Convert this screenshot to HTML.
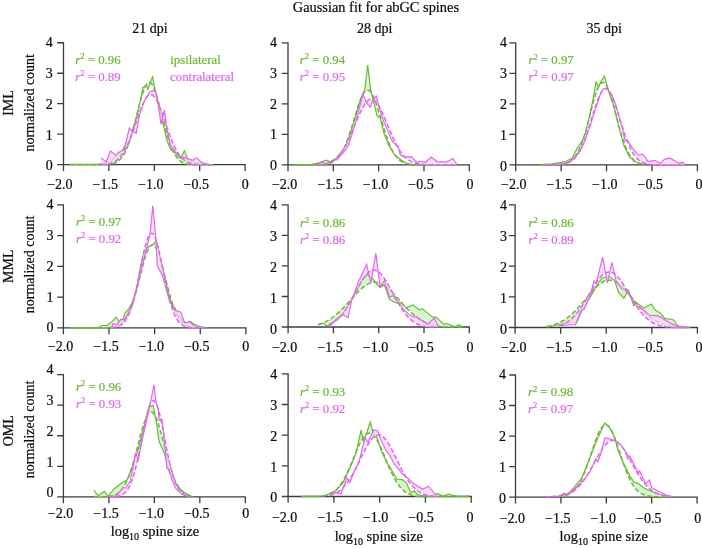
<!DOCTYPE html>
<html lang="en">
<head>
<meta charset="utf-8">
<title>Gaussian fit for abGC spines</title>
<style>html,body{margin:0;padding:0;background:#fff}body{width:702px;height:549px;overflow:hidden}svg{display:block}</style>
</head>
<body>
<svg width="702" height="549" viewBox="0 0 702 549">
<rect width="702" height="549" fill="#fff"/>
<g font-family='"Liberation Serif", "DejaVu Serif", serif' font-size="14" fill="#0a0a0a" stroke="#0a0a0a" stroke-width="0.2">
<text x="375.9" y="11.6" text-anchor="middle" font-size="14.4">Gaussian fit for abGC spines</text>
<text x="149.9" y="33.4" text-anchor="middle">21 dpi</text>
<text x="374.7" y="33.4" text-anchor="middle">28 dpi</text>
<text x="604.1" y="33.4" text-anchor="middle">35 dpi</text>
<g>
<path d="M57.20 42.75H63.50V171.00M57.20 73.24H63.50M57.20 103.72H63.50M57.20 134.21H63.50M57.20 164.70H245.10V171.00M108.90 164.70V171.00M154.30 164.70V171.00M199.70 164.70V171.00" fill="none" stroke="#3c3c3c" stroke-width="1.3"/>
<path d="M69.9 164.3 L86.2 164.3 L98.0 164.0 L104.4 163.4 L110.7 161.2 L116.2 155.7 L118.9 152.1 L120.7 154.2 L124.3 146.6 L127.1 142.0 L128.9 143.5 L131.6 132.8 L136.1 119.1 L139.8 103.8 L142.9 87.6 L146.4 84.9 L147.9 89.4 L152.5 76.9 L155.2 90.1 L158.8 106.9 L163.4 125.2 L167.0 140.5 L170.6 149.6 L174.3 152.1 L177.9 155.7 L180.6 158.2 L184.3 150.8 L187.9 159.4 L192.4 161.8 L199.7 163.1 L207.0 164.0 L213.3 164.7 L213.3 164.7 L211.7 164.7 L210.1 164.7 L208.5 164.7 L206.9 164.7 L205.3 164.7 L203.8 164.7 L202.2 164.7 L200.6 164.7 L199.0 164.7 L197.4 164.7 L195.8 164.7 L194.2 164.7 L192.6 164.7 L191.0 164.6 L189.4 164.4 L187.8 164.2 L186.2 163.8 L184.6 163.3 L183.0 162.7 L181.4 161.8 L179.8 160.7 L178.3 159.2 L176.7 157.3 L175.1 154.9 L173.5 152.0 L171.9 148.6 L170.3 144.6 L168.7 140.0 L167.1 134.8 L165.5 129.1 L163.9 123.1 L162.3 116.8 L160.7 110.4 L159.1 104.2 L157.5 98.4 L155.9 93.2 L154.3 88.8 L152.7 85.5 L151.2 83.3 L149.6 82.4 L148.0 82.9 L146.4 84.6 L144.8 87.6 L143.2 91.7 L141.6 96.7 L140.0 102.3 L138.4 108.4 L136.8 114.7 L135.2 121.1 L133.6 127.2 L132.0 133.0 L130.4 138.4 L128.8 143.2 L127.2 147.4 L125.6 151.0 L124.1 154.1 L122.5 156.6 L120.9 158.6 L119.3 160.2 L117.7 161.5 L116.1 162.4 L114.5 163.2 L112.9 163.7 L111.3 164.1 L109.7 164.3 L108.1 164.5 L106.5 164.7 L104.9 164.7 L103.3 164.7 L101.7 164.7 L100.1 164.7 L98.5 164.7 L97.0 164.7 L95.4 164.7 L93.8 164.7 L92.2 164.7 L90.6 164.7 L89.0 164.7 L87.4 164.7 L85.8 164.7 L84.2 164.7 L82.6 164.7 L81.0 164.7 L79.4 164.7 L77.8 164.7 L76.2 164.7 L74.6 164.7 L73.0 164.7 L71.5 164.7 L69.9 164.7 Z" fill="#c9f3bd" fill-opacity="0.75" stroke="none"/>
<path d="M69.9 164.3 L86.2 164.3 L98.0 164.0 L104.4 163.4 L110.7 161.2 L116.2 155.7 L118.9 152.1 L120.7 154.2 L124.3 146.6 L127.1 142.0 L128.9 143.5 L131.6 132.8 L136.1 119.1 L139.8 103.8 L142.9 87.6 L146.4 84.9 L147.9 89.4 L152.5 76.9 L155.2 90.1 L158.8 106.9 L163.4 125.2 L167.0 140.5 L170.6 149.6 L174.3 152.1 L177.9 155.7 L180.6 158.2 L184.3 150.8 L187.9 159.4 L192.4 161.8 L199.7 163.1 L207.0 164.0 L213.3 164.7" fill="none" stroke="#68b834" stroke-width="1.15" stroke-linejoin="miter"/>
<path d="M69.9 164.7 L71.5 164.7 L73.0 164.7 L74.6 164.7 L76.2 164.7 L77.8 164.7 L79.4 164.7 L81.0 164.7 L82.6 164.7 L84.2 164.7 L85.8 164.7 L87.4 164.7 L89.0 164.7 L90.6 164.7 L92.2 164.7 L93.8 164.7 L95.4 164.7 L97.0 164.7 L98.5 164.7 L100.1 164.7 L101.7 164.7 L103.3 164.7 L104.9 164.7 L106.5 164.7 L108.1 164.5 L109.7 164.3 L111.3 164.1 L112.9 163.7 L114.5 163.2 L116.1 162.4 L117.7 161.5 L119.3 160.2 L120.9 158.6 L122.5 156.6 L124.1 154.1 L125.6 151.0 L127.2 147.4 L128.8 143.2 L130.4 138.4 L132.0 133.0 L133.6 127.2 L135.2 121.1 L136.8 114.7 L138.4 108.4 L140.0 102.3 L141.6 96.7 L143.2 91.7 L144.8 87.6 L146.4 84.6 L148.0 82.9 L149.6 82.4 L151.2 83.3 L152.7 85.5 L154.3 88.8 L155.9 93.2 L157.5 98.4 L159.1 104.2 L160.7 110.4 L162.3 116.8 L163.9 123.1 L165.5 129.1 L167.1 134.8 L168.7 140.0 L170.3 144.6 L171.9 148.6 L173.5 152.0 L175.1 154.9 L176.7 157.3 L178.3 159.2 L179.8 160.7 L181.4 161.8 L183.0 162.7 L184.6 163.3 L186.2 163.8 L187.8 164.2 L189.4 164.4 L191.0 164.6 L192.6 164.7 L194.2 164.7 L195.8 164.7 L197.4 164.7 L199.0 164.7 L200.6 164.7 L202.2 164.7 L203.8 164.7 L205.3 164.7 L206.9 164.7 L208.5 164.7 L210.1 164.7 L211.7 164.7 L213.3 164.7" fill="none" stroke="#68b834" stroke-width="1.5" stroke-dasharray="4.8 2.3"/>
<path d="M101.0 157.9 L106.2 162.0 L110.5 151.0 L115.6 155.1 L120.8 151.0 L124.2 149.9 L129.3 127.9 L131.9 131.3 L136.2 133.1 L139.6 114.2 L144.7 100.4 L149.8 91.9 L152.4 90.4 L155.8 91.9 L158.4 105.6 L161.0 124.3 L164.4 109.9 L167.0 129.6 L170.3 145.0 L175.5 151.8 L180.6 157.0 L185.7 157.9 L192.6 160.3 L196.8 157.9 L201.0 162.0 L207.9 164.6 L212.0 164.7 L212.0 164.7 L210.7 164.7 L209.5 164.7 L208.3 164.7 L207.0 164.7 L205.8 164.7 L204.6 164.7 L203.3 164.7 L202.1 164.7 L200.9 164.7 L199.6 164.7 L198.4 164.6 L197.2 164.5 L195.9 164.4 L194.7 164.2 L193.5 164.0 L192.2 163.7 L191.0 163.4 L189.8 163.0 L188.5 162.5 L187.3 162.0 L186.1 161.3 L184.8 160.5 L183.6 159.5 L182.4 158.4 L181.1 157.1 L179.9 155.6 L178.7 153.9 L177.4 152.0 L176.2 149.9 L175.0 147.6 L173.7 145.0 L172.5 142.2 L171.3 139.2 L170.0 136.0 L168.8 132.7 L167.6 129.2 L166.3 125.6 L165.1 122.0 L163.9 118.4 L162.6 114.9 L161.4 111.4 L160.2 108.2 L158.9 105.2 L157.7 102.4 L156.5 100.0 L155.2 98.0 L154.0 96.5 L152.8 95.4 L151.5 94.8 L150.3 94.7 L149.1 95.1 L147.8 95.9 L146.6 97.3 L145.4 99.1 L144.2 101.4 L142.9 104.0 L141.7 106.9 L140.5 110.0 L139.2 113.4 L138.0 116.9 L136.8 120.5 L135.5 124.1 L134.3 127.7 L133.1 131.2 L131.8 134.6 L130.6 137.9 L129.4 140.9 L128.1 143.8 L126.9 146.5 L125.7 148.9 L124.4 151.2 L123.2 153.1 L122.0 154.9 L120.7 156.5 L119.5 157.9 L118.3 159.1 L117.0 160.1 L115.8 161.0 L114.6 161.7 L113.3 162.3 L112.1 162.8 L110.9 163.3 L109.6 163.6 L108.4 163.9 L107.2 164.1 L105.9 164.3 L104.7 164.4 L103.5 164.5 L102.2 164.6 L101.0 164.7 Z" fill="#f6d6f8" fill-opacity="0.75" stroke="none"/>
<path d="M101.0 157.9 L106.2 162.0 L110.5 151.0 L115.6 155.1 L120.8 151.0 L124.2 149.9 L129.3 127.9 L131.9 131.3 L136.2 133.1 L139.6 114.2 L144.7 100.4 L149.8 91.9 L152.4 90.4 L155.8 91.9 L158.4 105.6 L161.0 124.3 L164.4 109.9 L167.0 129.6 L170.3 145.0 L175.5 151.8 L180.6 157.0 L185.7 157.9 L192.6 160.3 L196.8 157.9 L201.0 162.0 L207.9 164.6 L212.0 164.7" fill="none" stroke="#e264ee" stroke-width="1.15" stroke-linejoin="miter"/>
<path d="M101.0 164.7 L102.2 164.6 L103.5 164.5 L104.7 164.4 L105.9 164.3 L107.2 164.1 L108.4 163.9 L109.6 163.6 L110.9 163.3 L112.1 162.8 L113.3 162.3 L114.6 161.7 L115.8 161.0 L117.0 160.1 L118.3 159.1 L119.5 157.9 L120.7 156.5 L122.0 154.9 L123.2 153.1 L124.4 151.2 L125.7 148.9 L126.9 146.5 L128.1 143.8 L129.4 140.9 L130.6 137.9 L131.8 134.6 L133.1 131.2 L134.3 127.7 L135.5 124.1 L136.8 120.5 L138.0 116.9 L139.2 113.4 L140.5 110.0 L141.7 106.9 L142.9 104.0 L144.2 101.4 L145.4 99.1 L146.6 97.3 L147.8 95.9 L149.1 95.1 L150.3 94.7 L151.5 94.8 L152.8 95.4 L154.0 96.5 L155.2 98.0 L156.5 100.0 L157.7 102.4 L158.9 105.2 L160.2 108.2 L161.4 111.4 L162.6 114.9 L163.9 118.4 L165.1 122.0 L166.3 125.6 L167.6 129.2 L168.8 132.7 L170.0 136.0 L171.3 139.2 L172.5 142.2 L173.7 145.0 L175.0 147.6 L176.2 149.9 L177.4 152.0 L178.7 153.9 L179.9 155.6 L181.1 157.1 L182.4 158.4 L183.6 159.5 L184.8 160.5 L186.1 161.3 L187.3 162.0 L188.5 162.5 L189.8 163.0 L191.0 163.4 L192.2 163.7 L193.5 164.0 L194.7 164.2 L195.9 164.4 L197.2 164.5 L198.4 164.6 L199.6 164.7 L200.9 164.7 L202.1 164.7 L203.3 164.7 L204.6 164.7 L205.8 164.7 L207.0 164.7 L208.3 164.7 L209.5 164.7 L210.7 164.7 L212.0 164.7" fill="none" stroke="#e264ee" stroke-width="1.5" stroke-dasharray="4.8 2.3"/>
<text x="52.8" y="170.4" text-anchor="end">0</text>
<text x="52.8" y="139.5" text-anchor="end">1</text>
<text x="52.8" y="108.6" text-anchor="end">2</text>
<text x="52.8" y="77.7" text-anchor="end">3</text>
<text x="52.8" y="46.8" text-anchor="end">4</text>
<text x="72.6" y="189.0" text-anchor="end">−2.0</text>
<text x="118.0" y="189.0" text-anchor="end">−1.5</text>
<text x="163.5" y="189.0" text-anchor="end">−1.0</text>
<text x="209.0" y="189.0" text-anchor="end">−0.5</text>
<text x="245.2" y="189.0" text-anchor="middle">0</text>
<text x="75.3" y="64.0" fill="#68b834" stroke="#68b834" font-size="12.8"><tspan font-style="italic">r</tspan><tspan font-size="8.5" dy="-4.6">2</tspan><tspan dy="4.6"> = 0.96</tspan></text>
<text x="75.3" y="80.6" fill="#e264ee" stroke="#e264ee" font-size="12.8"><tspan font-style="italic">r</tspan><tspan font-size="8.5" dy="-4.6">2</tspan><tspan dy="4.6"> = 0.89</tspan></text>
</g>
<g>
<path d="M281.70 42.90H288.00V171.15M281.70 73.39H288.00M281.70 103.88H288.00M281.70 134.36H288.00M281.70 164.85H469.30V171.15M333.32 164.85V171.15M378.65 164.85V171.15M423.98 164.85V171.15" fill="none" stroke="#3c3c3c" stroke-width="1.3"/>
<path d="M294.1 164.6 L300.0 164.6 L312.0 164.2 L320.0 162.6 L326.1 160.2 L330.1 161.8 L336.1 158.2 L341.1 152.2 L346.1 146.2 L350.1 134.1 L355.1 118.1 L359.1 104.1 L362.5 94.1 L364.7 90.1 L367.7 65.0 L370.7 90.1 L373.1 100.1 L377.2 116.1 L380.2 118.1 L384.2 134.1 L389.2 146.2 L394.2 154.2 L400.2 159.2 L406.2 163.2 L412.2 164.2 L420.0 164.6 L423.9 164.8 L451.1 164.8 L451.1 164.8 L449.4 164.8 L447.6 164.8 L445.9 164.8 L444.2 164.8 L442.4 164.8 L440.7 164.8 L438.9 164.8 L437.2 164.8 L435.4 164.8 L433.7 164.8 L431.9 164.8 L430.2 164.8 L428.5 164.8 L426.7 164.8 L425.0 164.8 L423.2 164.8 L421.5 164.8 L419.7 164.8 L418.0 164.8 L416.2 164.8 L414.5 164.7 L412.7 164.6 L411.0 164.4 L409.3 164.2 L407.5 163.9 L405.8 163.4 L404.0 162.8 L402.3 162.0 L400.5 160.9 L398.8 159.4 L397.0 157.6 L395.3 155.4 L393.5 152.7 L391.8 149.4 L390.1 145.7 L388.3 141.3 L386.6 136.5 L384.8 131.2 L383.1 125.6 L381.3 119.8 L379.6 114.0 L377.8 108.4 L376.1 103.3 L374.3 98.7 L372.6 94.9 L370.9 92.2 L369.1 90.5 L367.4 90.1 L365.6 90.8 L363.9 92.8 L362.1 95.9 L360.4 99.9 L358.6 104.6 L356.9 110.0 L355.1 115.6 L353.4 121.5 L351.7 127.2 L349.9 132.7 L348.2 137.9 L346.4 142.6 L344.7 146.8 L342.9 150.4 L341.2 153.5 L339.4 156.1 L337.7 158.2 L335.9 159.9 L334.2 161.2 L332.5 162.2 L330.7 163.0 L329.0 163.6 L327.2 164.0 L325.5 164.3 L323.7 164.5 L322.0 164.6 L320.2 164.7 L318.5 164.8 L316.7 164.8 L315.0 164.8 L313.3 164.8 L311.5 164.8 L309.8 164.8 L308.0 164.8 L306.3 164.8 L304.5 164.8 L302.8 164.8 L301.0 164.8 L299.3 164.8 L297.5 164.8 L295.8 164.8 L294.1 164.8 Z" fill="#c9f3bd" fill-opacity="0.75" stroke="none"/>
<path d="M294.1 164.6 L300.0 164.6 L312.0 164.2 L320.0 162.6 L326.1 160.2 L330.1 161.8 L336.1 158.2 L341.1 152.2 L346.1 146.2 L350.1 134.1 L355.1 118.1 L359.1 104.1 L362.5 94.1 L364.7 90.1 L367.7 65.0 L370.7 90.1 L373.1 100.1 L377.2 116.1 L380.2 118.1 L384.2 134.1 L389.2 146.2 L394.2 154.2 L400.2 159.2 L406.2 163.2 L412.2 164.2 L420.0 164.6 L423.9 164.8 L451.1 164.8" fill="none" stroke="#68b834" stroke-width="1.15" stroke-linejoin="miter"/>
<path d="M294.1 164.8 L295.8 164.8 L297.5 164.8 L299.3 164.8 L301.0 164.8 L302.8 164.8 L304.5 164.8 L306.3 164.8 L308.0 164.8 L309.8 164.8 L311.5 164.8 L313.3 164.8 L315.0 164.8 L316.7 164.8 L318.5 164.8 L320.2 164.7 L322.0 164.6 L323.7 164.5 L325.5 164.3 L327.2 164.0 L329.0 163.6 L330.7 163.0 L332.5 162.2 L334.2 161.2 L335.9 159.9 L337.7 158.2 L339.4 156.1 L341.2 153.5 L342.9 150.4 L344.7 146.8 L346.4 142.6 L348.2 137.9 L349.9 132.7 L351.7 127.2 L353.4 121.5 L355.1 115.6 L356.9 110.0 L358.6 104.6 L360.4 99.9 L362.1 95.9 L363.9 92.8 L365.6 90.8 L367.4 90.1 L369.1 90.5 L370.9 92.2 L372.6 94.9 L374.3 98.7 L376.1 103.3 L377.8 108.4 L379.6 114.0 L381.3 119.8 L383.1 125.6 L384.8 131.2 L386.6 136.5 L388.3 141.3 L390.1 145.7 L391.8 149.4 L393.5 152.7 L395.3 155.4 L397.0 157.6 L398.8 159.4 L400.5 160.9 L402.3 162.0 L404.0 162.8 L405.8 163.4 L407.5 163.9 L409.3 164.2 L411.0 164.4 L412.7 164.6 L414.5 164.7 L416.2 164.8 L418.0 164.8 L419.7 164.8 L421.5 164.8 L423.2 164.8 L425.0 164.8 L426.7 164.8 L428.5 164.8 L430.2 164.8 L431.9 164.8 L433.7 164.8 L435.4 164.8 L437.2 164.8 L438.9 164.8 L440.7 164.8 L442.4 164.8 L444.2 164.8 L445.9 164.8 L447.6 164.8 L449.4 164.8 L451.1 164.8" fill="none" stroke="#68b834" stroke-width="1.5" stroke-dasharray="4.8 2.3"/>
<path d="M317.0 164.2 L321.0 162.2 L326.1 163.8 L332.1 161.2 L337.1 159.2 L342.1 154.2 L348.1 146.2 L351.1 137.2 L355.1 124.1 L359.1 109.1 L363.1 94.1 L366.1 102.1 L370.1 107.1 L373.1 100.1 L376.1 96.1 L379.2 107.1 L383.2 120.1 L388.2 132.1 L392.2 141.2 L396.2 145.2 L398.2 146.6 L400.3 155.1 L403.9 157.0 L411.2 156.7 L417.1 162.5 L421.2 161.2 L424.8 162.5 L431.2 157.0 L437.5 161.8 L446.6 161.8 L453.0 158.5 L457.0 164.8 L457.0 164.8 L455.5 164.8 L453.9 164.8 L452.4 164.8 L450.8 164.8 L449.3 164.8 L447.7 164.8 L446.2 164.8 L444.6 164.8 L443.0 164.8 L441.5 164.8 L439.9 164.8 L438.4 164.8 L436.8 164.8 L435.3 164.8 L433.7 164.8 L432.2 164.8 L430.6 164.8 L429.0 164.8 L427.5 164.7 L425.9 164.7 L424.4 164.6 L422.8 164.4 L421.3 164.3 L419.7 164.1 L418.2 163.8 L416.6 163.5 L415.0 163.1 L413.5 162.6 L411.9 161.9 L410.4 161.2 L408.8 160.2 L407.3 159.1 L405.7 157.8 L404.2 156.3 L402.6 154.5 L401.0 152.4 L399.5 150.2 L397.9 147.6 L396.4 144.8 L394.8 141.7 L393.3 138.4 L391.7 134.9 L390.2 131.3 L388.6 127.5 L387.0 123.7 L385.5 120.0 L383.9 116.3 L382.4 112.8 L380.8 109.6 L379.3 106.7 L377.7 104.2 L376.2 102.1 L374.6 100.6 L373.0 99.6 L371.5 99.2 L369.9 99.4 L368.4 100.2 L366.8 101.6 L365.3 103.5 L363.7 105.8 L362.2 108.6 L360.6 111.8 L359.0 115.2 L357.5 118.8 L355.9 122.5 L354.4 126.3 L352.8 130.1 L351.3 133.8 L349.7 137.3 L348.1 140.7 L346.6 143.8 L345.0 146.7 L343.5 149.4 L341.9 151.7 L340.4 153.9 L338.8 155.7 L337.3 157.3 L335.7 158.7 L334.1 159.9 L332.6 160.9 L331.0 161.7 L329.5 162.4 L327.9 162.9 L326.4 163.4 L324.8 163.7 L323.3 164.0 L321.7 164.2 L320.1 164.4 L318.6 164.5 L317.0 164.6 Z" fill="#f6d6f8" fill-opacity="0.75" stroke="none"/>
<path d="M317.0 164.2 L321.0 162.2 L326.1 163.8 L332.1 161.2 L337.1 159.2 L342.1 154.2 L348.1 146.2 L351.1 137.2 L355.1 124.1 L359.1 109.1 L363.1 94.1 L366.1 102.1 L370.1 107.1 L373.1 100.1 L376.1 96.1 L379.2 107.1 L383.2 120.1 L388.2 132.1 L392.2 141.2 L396.2 145.2 L398.2 146.6 L400.3 155.1 L403.9 157.0 L411.2 156.7 L417.1 162.5 L421.2 161.2 L424.8 162.5 L431.2 157.0 L437.5 161.8 L446.6 161.8 L453.0 158.5 L457.0 164.8" fill="none" stroke="#e264ee" stroke-width="1.15" stroke-linejoin="miter"/>
<path d="M317.0 164.6 L318.6 164.5 L320.1 164.4 L321.7 164.2 L323.3 164.0 L324.8 163.7 L326.4 163.4 L327.9 162.9 L329.5 162.4 L331.0 161.7 L332.6 160.9 L334.1 159.9 L335.7 158.7 L337.3 157.3 L338.8 155.7 L340.4 153.9 L341.9 151.7 L343.5 149.4 L345.0 146.7 L346.6 143.8 L348.1 140.7 L349.7 137.3 L351.3 133.8 L352.8 130.1 L354.4 126.3 L355.9 122.5 L357.5 118.8 L359.0 115.2 L360.6 111.8 L362.2 108.6 L363.7 105.8 L365.3 103.5 L366.8 101.6 L368.4 100.2 L369.9 99.4 L371.5 99.2 L373.0 99.6 L374.6 100.6 L376.2 102.1 L377.7 104.2 L379.3 106.7 L380.8 109.6 L382.4 112.8 L383.9 116.3 L385.5 120.0 L387.0 123.7 L388.6 127.5 L390.2 131.3 L391.7 134.9 L393.3 138.4 L394.8 141.7 L396.4 144.8 L397.9 147.6 L399.5 150.2 L401.0 152.4 L402.6 154.5 L404.2 156.3 L405.7 157.8 L407.3 159.1 L408.8 160.2 L410.4 161.2 L411.9 161.9 L413.5 162.6 L415.0 163.1 L416.6 163.5 L418.2 163.8 L419.7 164.1 L421.3 164.3 L422.8 164.4 L424.4 164.6 L425.9 164.7 L427.5 164.7 L429.0 164.8 L430.6 164.8 L432.2 164.8 L433.7 164.8 L435.3 164.8 L436.8 164.8 L438.4 164.8 L439.9 164.8 L441.5 164.8 L443.0 164.8 L444.6 164.8 L446.2 164.8 L447.7 164.8 L449.3 164.8 L450.8 164.8 L452.4 164.8 L453.9 164.8 L455.5 164.8 L457.0 164.8" fill="none" stroke="#e264ee" stroke-width="1.5" stroke-dasharray="4.8 2.3"/>
<text x="277.1" y="170.3" text-anchor="end">0</text>
<text x="277.1" y="139.4" text-anchor="end">1</text>
<text x="277.1" y="108.5" text-anchor="end">2</text>
<text x="277.1" y="77.6" text-anchor="end">3</text>
<text x="277.1" y="46.7" text-anchor="end">4</text>
<text x="297.3" y="189.0" text-anchor="end">−2.0</text>
<text x="342.8" y="189.0" text-anchor="end">−1.5</text>
<text x="388.2" y="189.0" text-anchor="end">−1.0</text>
<text x="433.7" y="189.0" text-anchor="end">−0.5</text>
<text x="469.9" y="189.0" text-anchor="middle">0</text>
<text x="299.8" y="63.9" fill="#68b834" stroke="#68b834" font-size="12.8"><tspan font-style="italic">r</tspan><tspan font-size="8.5" dy="-4.6">2</tspan><tspan dy="4.6"> = 0.94</tspan></text>
<text x="299.8" y="80.5" fill="#e264ee" stroke="#e264ee" font-size="12.8"><tspan font-style="italic">r</tspan><tspan font-size="8.5" dy="-4.6">2</tspan><tspan dy="4.6"> = 0.95</tspan></text>
</g>
<g>
<path d="M509.40 42.90H515.70V171.20M509.40 73.40H515.70M509.40 103.90H515.70M509.40 134.40H515.70M509.40 164.90H697.40V171.20M561.12 164.90V171.20M606.55 164.90V171.20M651.98 164.90V171.20" fill="none" stroke="#3c3c3c" stroke-width="1.3"/>
<path d="M541.2 164.9 L540.0 164.6 L552.0 163.8 L560.0 162.6 L566.0 161.2 L572.1 158.2 L577.1 148.2 L582.1 141.2 L585.1 134.1 L589.1 118.1 L592.5 102.1 L596.1 82.0 L598.5 87.1 L601.1 81.0 L604.5 76.4 L607.1 86.1 L610.1 96.1 L614.1 106.1 L617.2 120.1 L620.2 132.1 L624.2 146.2 L629.2 156.2 L634.2 161.2 L640.2 163.8 L644.2 164.6 L644.2 164.4 L643.1 164.2 L641.9 164.0 L640.8 163.7 L639.6 163.4 L638.5 162.9 L637.3 162.4 L636.2 161.8 L635.1 161.0 L633.9 160.1 L632.8 159.0 L631.6 157.7 L630.5 156.2 L629.3 154.4 L628.2 152.4 L627.0 150.1 L625.9 147.6 L624.8 144.7 L623.6 141.6 L622.5 138.2 L621.3 134.5 L620.2 130.6 L619.0 126.5 L617.9 122.3 L616.7 117.9 L615.6 113.5 L614.5 109.1 L613.3 104.8 L612.2 100.7 L611.0 96.9 L609.9 93.3 L608.7 90.2 L607.6 87.5 L606.4 85.3 L605.3 83.7 L604.2 82.8 L603.0 82.4 L601.9 82.7 L600.7 83.6 L599.6 85.2 L598.4 87.3 L597.3 89.9 L596.1 93.0 L595.0 96.6 L593.9 100.4 L592.7 104.5 L591.6 108.8 L590.4 113.2 L589.3 117.6 L588.1 121.9 L587.0 126.2 L585.9 130.3 L584.7 134.2 L583.6 137.9 L582.4 141.3 L581.3 144.5 L580.1 147.3 L579.0 149.9 L577.8 152.2 L576.7 154.2 L575.6 156.0 L574.4 157.6 L573.3 158.9 L572.1 160.0 L571.0 160.9 L569.8 161.7 L568.7 162.4 L567.5 162.9 L566.4 163.3 L565.3 163.7 L564.1 164.0 L563.0 164.2 L561.8 164.4 L560.7 164.5 L559.5 164.6 L558.4 164.7 L557.2 164.7 L556.1 164.8 L555.0 164.8 L553.8 164.8 L552.7 164.9 L551.5 164.9 L550.4 164.9 L549.2 164.9 L548.1 164.9 L546.9 164.9 L545.8 164.9 L544.7 164.9 L543.5 164.9 L542.4 164.9 L541.2 164.9 Z" fill="#c9f3bd" fill-opacity="0.75" stroke="none"/>
<path d="M541.2 164.9 L540.0 164.6 L552.0 163.8 L560.0 162.6 L566.0 161.2 L572.1 158.2 L577.1 148.2 L582.1 141.2 L585.1 134.1 L589.1 118.1 L592.5 102.1 L596.1 82.0 L598.5 87.1 L601.1 81.0 L604.5 76.4 L607.1 86.1 L610.1 96.1 L614.1 106.1 L617.2 120.1 L620.2 132.1 L624.2 146.2 L629.2 156.2 L634.2 161.2 L640.2 163.8 L644.2 164.6" fill="none" stroke="#68b834" stroke-width="1.15" stroke-linejoin="miter"/>
<path d="M541.2 164.9 L542.4 164.9 L543.5 164.9 L544.7 164.9 L545.8 164.9 L546.9 164.9 L548.1 164.9 L549.2 164.9 L550.4 164.9 L551.5 164.9 L552.7 164.9 L553.8 164.8 L555.0 164.8 L556.1 164.8 L557.2 164.7 L558.4 164.7 L559.5 164.6 L560.7 164.5 L561.8 164.4 L563.0 164.2 L564.1 164.0 L565.3 163.7 L566.4 163.3 L567.5 162.9 L568.7 162.4 L569.8 161.7 L571.0 160.9 L572.1 160.0 L573.3 158.9 L574.4 157.6 L575.6 156.0 L576.7 154.2 L577.8 152.2 L579.0 149.9 L580.1 147.3 L581.3 144.5 L582.4 141.3 L583.6 137.9 L584.7 134.2 L585.9 130.3 L587.0 126.2 L588.1 121.9 L589.3 117.6 L590.4 113.2 L591.6 108.8 L592.7 104.5 L593.9 100.4 L595.0 96.6 L596.1 93.0 L597.3 89.9 L598.4 87.3 L599.6 85.2 L600.7 83.6 L601.9 82.7 L603.0 82.4 L604.2 82.8 L605.3 83.7 L606.4 85.3 L607.6 87.5 L608.7 90.2 L609.9 93.3 L611.0 96.9 L612.2 100.7 L613.3 104.8 L614.5 109.1 L615.6 113.5 L616.7 117.9 L617.9 122.3 L619.0 126.5 L620.2 130.6 L621.3 134.5 L622.5 138.2 L623.6 141.6 L624.8 144.7 L625.9 147.6 L627.0 150.1 L628.2 152.4 L629.3 154.4 L630.5 156.2 L631.6 157.7 L632.8 159.0 L633.9 160.1 L635.1 161.0 L636.2 161.8 L637.3 162.4 L638.5 162.9 L639.6 163.4 L640.8 163.7 L641.9 164.0 L643.1 164.2 L644.2 164.4" fill="none" stroke="#68b834" stroke-width="1.5" stroke-dasharray="4.8 2.3"/>
<path d="M546.0 164.6 L556.0 164.2 L564.1 163.2 L570.1 161.2 L576.1 156.2 L580.1 151.2 L585.1 140.2 L590.1 126.1 L595.1 110.1 L600.1 95.1 L603.1 89.1 L606.1 88.1 L609.1 91.1 L613.1 98.1 L616.2 106.1 L619.2 118.1 L622.2 128.1 L625.2 141.2 L627.6 140.2 L631.2 146.2 L636.2 153.2 L639.2 155.2 L642.2 154.2 L646.2 158.2 L647.6 161.4 L655.4 160.6 L660.2 163.4 L664.7 159.1 L670.2 158.2 L679.2 163.4 L683.1 162.5 L684.7 164.9 L684.7 164.9 L683.1 164.9 L681.6 164.9 L680.1 164.9 L678.5 164.9 L677.0 164.9 L675.4 164.9 L673.9 164.9 L672.4 164.9 L670.8 164.9 L669.3 164.9 L667.7 164.9 L666.2 164.9 L664.7 164.9 L663.1 164.9 L661.6 164.9 L660.0 164.9 L658.5 164.8 L657.0 164.8 L655.4 164.8 L653.9 164.7 L652.3 164.6 L650.8 164.4 L649.2 164.3 L647.7 164.0 L646.2 163.7 L644.6 163.2 L643.1 162.7 L641.5 161.9 L640.0 161.0 L638.5 159.8 L636.9 158.4 L635.4 156.6 L633.8 154.6 L632.3 152.1 L630.8 149.3 L629.2 146.0 L627.7 142.4 L626.1 138.3 L624.6 133.9 L623.1 129.2 L621.5 124.3 L620.0 119.3 L618.4 114.2 L616.9 109.2 L615.3 104.5 L613.8 100.2 L612.3 96.4 L610.7 93.3 L609.2 90.8 L607.6 89.3 L606.1 88.6 L604.6 88.8 L603.0 89.9 L601.5 91.9 L599.9 94.6 L598.4 98.1 L596.9 102.2 L595.3 106.7 L593.8 111.5 L592.2 116.5 L590.7 121.6 L589.2 126.6 L587.6 131.4 L586.1 136.0 L584.5 140.2 L583.0 144.1 L581.4 147.6 L579.9 150.6 L578.4 153.3 L576.8 155.6 L575.3 157.5 L573.7 159.1 L572.2 160.4 L570.7 161.5 L569.1 162.3 L567.6 162.9 L566.0 163.5 L564.5 163.8 L563.0 164.1 L561.4 164.4 L559.9 164.5 L558.3 164.6 L556.8 164.7 L555.3 164.8 L553.7 164.8 L552.2 164.8 L550.6 164.9 L549.1 164.9 L547.6 164.9 L546.0 164.9 Z" fill="#f6d6f8" fill-opacity="0.75" stroke="none"/>
<path d="M546.0 164.6 L556.0 164.2 L564.1 163.2 L570.1 161.2 L576.1 156.2 L580.1 151.2 L585.1 140.2 L590.1 126.1 L595.1 110.1 L600.1 95.1 L603.1 89.1 L606.1 88.1 L609.1 91.1 L613.1 98.1 L616.2 106.1 L619.2 118.1 L622.2 128.1 L625.2 141.2 L627.6 140.2 L631.2 146.2 L636.2 153.2 L639.2 155.2 L642.2 154.2 L646.2 158.2 L647.6 161.4 L655.4 160.6 L660.2 163.4 L664.7 159.1 L670.2 158.2 L679.2 163.4 L683.1 162.5 L684.7 164.9" fill="none" stroke="#e264ee" stroke-width="1.15" stroke-linejoin="miter"/>
<path d="M546.0 164.9 L547.6 164.9 L549.1 164.9 L550.6 164.9 L552.2 164.8 L553.7 164.8 L555.3 164.8 L556.8 164.7 L558.3 164.6 L559.9 164.5 L561.4 164.4 L563.0 164.1 L564.5 163.8 L566.0 163.5 L567.6 162.9 L569.1 162.3 L570.7 161.5 L572.2 160.4 L573.7 159.1 L575.3 157.5 L576.8 155.6 L578.4 153.3 L579.9 150.6 L581.4 147.6 L583.0 144.1 L584.5 140.2 L586.1 136.0 L587.6 131.4 L589.2 126.6 L590.7 121.6 L592.2 116.5 L593.8 111.5 L595.3 106.7 L596.9 102.2 L598.4 98.1 L599.9 94.6 L601.5 91.9 L603.0 89.9 L604.6 88.8 L606.1 88.6 L607.6 89.3 L609.2 90.8 L610.7 93.3 L612.3 96.4 L613.8 100.2 L615.3 104.5 L616.9 109.2 L618.4 114.2 L620.0 119.3 L621.5 124.3 L623.1 129.2 L624.6 133.9 L626.1 138.3 L627.7 142.4 L629.2 146.0 L630.8 149.3 L632.3 152.1 L633.8 154.6 L635.4 156.6 L636.9 158.4 L638.5 159.8 L640.0 161.0 L641.5 161.9 L643.1 162.7 L644.6 163.2 L646.2 163.7 L647.7 164.0 L649.2 164.3 L650.8 164.4 L652.3 164.6 L653.9 164.7 L655.4 164.8 L657.0 164.8 L658.5 164.8 L660.0 164.9 L661.6 164.9 L663.1 164.9 L664.7 164.9 L666.2 164.9 L667.7 164.9 L669.3 164.9 L670.8 164.9 L672.4 164.9 L673.9 164.9 L675.4 164.9 L677.0 164.9 L678.5 164.9 L680.1 164.9 L681.6 164.9 L683.1 164.9 L684.7 164.9" fill="none" stroke="#e264ee" stroke-width="1.5" stroke-dasharray="4.8 2.3"/>
<text x="506.9" y="170.6" text-anchor="end">0</text>
<text x="506.9" y="139.7" text-anchor="end">1</text>
<text x="506.9" y="108.8" text-anchor="end">2</text>
<text x="506.9" y="77.9" text-anchor="end">3</text>
<text x="506.9" y="47.0" text-anchor="end">4</text>
<text x="526.5" y="189.0" text-anchor="end">−2.0</text>
<text x="572.0" y="189.0" text-anchor="end">−1.5</text>
<text x="617.4" y="189.0" text-anchor="end">−1.0</text>
<text x="662.9" y="189.0" text-anchor="end">−0.5</text>
<text x="699.1" y="189.0" text-anchor="middle">0</text>
<text x="528.5" y="64.2" fill="#68b834" stroke="#68b834" font-size="12.8"><tspan font-style="italic">r</tspan><tspan font-size="8.5" dy="-4.6">2</tspan><tspan dy="4.6"> = 0.97</tspan></text>
<text x="528.5" y="80.8" fill="#e264ee" stroke="#e264ee" font-size="12.8"><tspan font-style="italic">r</tspan><tspan font-size="8.5" dy="-4.6">2</tspan><tspan dy="4.6"> = 0.97</tspan></text>
</g>
<g>
<path d="M57.10 204.80H63.40V334.15M57.10 235.56H63.40M57.10 266.33H63.40M57.10 297.09H63.40M57.10 327.85H245.90V334.15M109.03 327.85V334.15M154.65 327.85V334.15M200.28 327.85V334.15" fill="none" stroke="#3c3c3c" stroke-width="1.3"/>
<path d="M69.9 327.5 L98.9 327.5 L101.6 325.5 L107.1 325.4 L112.1 321.4 L116.4 317.1 L118.9 322.0 L122.8 319.9 L125.0 312.8 L128.5 309.2 L132.8 301.2 L137.0 288.4 L139.9 269.0 L143.8 252.4 L147.6 247.3 L150.9 246.0 L154.0 243.5 L156.5 240.9 L158.6 249.8 L160.4 261.3 L162.9 271.5 L165.5 280.5 L168.0 293.2 L171.8 304.7 L174.4 307.2 L178.2 314.9 L182.0 320.0 L185.9 323.8 L189.7 321.3 L193.5 323.8 L199.9 326.9 L207.6 327.7 L207.6 327.8 L206.0 327.8 L204.5 327.8 L203.0 327.8 L201.4 327.7 L199.9 327.7 L198.4 327.7 L196.8 327.6 L195.3 327.5 L193.8 327.4 L192.3 327.2 L190.7 326.9 L189.2 326.5 L187.7 326.0 L186.1 325.3 L184.6 324.4 L183.1 323.2 L181.5 321.7 L180.0 319.8 L178.5 317.5 L177.0 314.8 L175.4 311.5 L173.9 307.7 L172.4 303.3 L170.8 298.5 L169.3 293.2 L167.8 287.5 L166.2 281.5 L164.7 275.5 L163.2 269.5 L161.7 263.7 L160.1 258.4 L158.6 253.8 L157.1 249.9 L155.5 247.1 L154.0 245.3 L152.5 244.7 L150.9 245.3 L149.4 247.1 L147.9 250.0 L146.4 253.8 L144.8 258.5 L143.3 263.8 L141.8 269.6 L140.2 275.6 L138.7 281.6 L137.2 287.6 L135.6 293.2 L134.1 298.5 L132.6 303.4 L131.1 307.7 L129.5 311.5 L128.0 314.8 L126.5 317.6 L124.9 319.9 L123.4 321.7 L121.9 323.2 L120.3 324.4 L118.8 325.3 L117.3 326.0 L115.8 326.5 L114.2 326.9 L112.7 327.2 L111.2 327.4 L109.6 327.5 L108.1 327.6 L106.6 327.7 L105.0 327.7 L103.5 327.8 L102.0 327.8 L100.5 327.8 L98.9 327.8 L97.4 327.8 L95.9 327.8 L94.3 327.8 L92.8 327.8 L91.3 327.8 L89.7 327.8 L88.2 327.8 L86.7 327.8 L85.2 327.8 L83.6 327.8 L82.1 327.8 L80.6 327.8 L79.0 327.8 L77.5 327.8 L76.0 327.8 L74.4 327.8 L72.9 327.8 L71.4 327.8 L69.9 327.8 Z" fill="#c9f3bd" fill-opacity="0.75" stroke="none"/>
<path d="M69.9 327.5 L98.9 327.5 L101.6 325.5 L107.1 325.4 L112.1 321.4 L116.4 317.1 L118.9 322.0 L122.8 319.9 L125.0 312.8 L128.5 309.2 L132.8 301.2 L137.0 288.4 L139.9 269.0 L143.8 252.4 L147.6 247.3 L150.9 246.0 L154.0 243.5 L156.5 240.9 L158.6 249.8 L160.4 261.3 L162.9 271.5 L165.5 280.5 L168.0 293.2 L171.8 304.7 L174.4 307.2 L178.2 314.9 L182.0 320.0 L185.9 323.8 L189.7 321.3 L193.5 323.8 L199.9 326.9 L207.6 327.7" fill="none" stroke="#68b834" stroke-width="1.15" stroke-linejoin="miter"/>
<path d="M69.9 327.8 L71.4 327.8 L72.9 327.8 L74.4 327.8 L76.0 327.8 L77.5 327.8 L79.0 327.8 L80.6 327.8 L82.1 327.8 L83.6 327.8 L85.2 327.8 L86.7 327.8 L88.2 327.8 L89.7 327.8 L91.3 327.8 L92.8 327.8 L94.3 327.8 L95.9 327.8 L97.4 327.8 L98.9 327.8 L100.5 327.8 L102.0 327.8 L103.5 327.8 L105.0 327.7 L106.6 327.7 L108.1 327.6 L109.6 327.5 L111.2 327.4 L112.7 327.2 L114.2 326.9 L115.8 326.5 L117.3 326.0 L118.8 325.3 L120.3 324.4 L121.9 323.2 L123.4 321.7 L124.9 319.9 L126.5 317.6 L128.0 314.8 L129.5 311.5 L131.1 307.7 L132.6 303.4 L134.1 298.5 L135.6 293.2 L137.2 287.6 L138.7 281.6 L140.2 275.6 L141.8 269.6 L143.3 263.8 L144.8 258.5 L146.4 253.8 L147.9 250.0 L149.4 247.1 L150.9 245.3 L152.5 244.7 L154.0 245.3 L155.5 247.1 L157.1 249.9 L158.6 253.8 L160.1 258.4 L161.7 263.7 L163.2 269.5 L164.7 275.5 L166.2 281.5 L167.8 287.5 L169.3 293.2 L170.8 298.5 L172.4 303.3 L173.9 307.7 L175.4 311.5 L177.0 314.8 L178.5 317.5 L180.0 319.8 L181.5 321.7 L183.1 323.2 L184.6 324.4 L186.1 325.3 L187.7 326.0 L189.2 326.5 L190.7 326.9 L192.3 327.2 L193.8 327.4 L195.3 327.5 L196.8 327.6 L198.4 327.7 L199.9 327.7 L201.4 327.7 L203.0 327.8 L204.5 327.8 L206.0 327.8 L207.6 327.8" fill="none" stroke="#68b834" stroke-width="1.5" stroke-dasharray="4.8 2.3"/>
<path d="M111.6 327.8 L113.0 323.5 L117.1 324.7 L120.7 319.2 L124.3 319.9 L128.5 312.8 L132.8 304.0 L150.0 234.6 L152.8 205.6 L155.5 234.6 L157.3 265.5 L162.8 276.5 L166.7 290.8 L169.8 302.1 L174.4 309.8 L180.8 312.2 L184.6 322.6 L189.7 322.0 L194.3 325.7 L198.8 326.3 L205.1 327.8 L205.1 327.8 L204.1 327.8 L203.1 327.8 L202.0 327.8 L201.0 327.8 L200.0 327.8 L198.9 327.8 L197.9 327.8 L196.8 327.8 L195.8 327.7 L194.8 327.7 L193.7 327.7 L192.7 327.6 L191.6 327.6 L190.6 327.5 L189.6 327.4 L188.5 327.2 L187.5 327.1 L186.4 326.8 L185.4 326.5 L184.4 326.1 L183.3 325.7 L182.3 325.1 L181.2 324.3 L180.2 323.5 L179.2 322.4 L178.1 321.1 L177.1 319.6 L176.1 317.8 L175.0 315.8 L174.0 313.4 L172.9 310.8 L171.9 307.7 L170.9 304.4 L169.8 300.7 L168.8 296.7 L167.7 292.3 L166.7 287.7 L165.7 282.9 L164.6 277.9 L163.6 272.7 L162.5 267.5 L161.5 262.4 L160.5 257.4 L159.4 252.7 L158.4 248.2 L157.3 244.2 L156.3 240.7 L155.3 237.8 L154.2 235.6 L153.2 234.0 L152.2 233.2 L151.1 233.2 L150.1 233.9 L149.0 235.4 L148.0 237.6 L147.0 240.4 L145.9 243.8 L144.9 247.8 L143.8 252.2 L142.8 256.9 L141.8 261.9 L140.7 267.0 L139.7 272.2 L138.6 277.3 L137.6 282.3 L136.6 287.2 L135.5 291.9 L134.5 296.2 L133.4 300.3 L132.4 304.0 L131.4 307.4 L130.3 310.5 L129.3 313.2 L128.3 315.6 L127.2 317.6 L126.2 319.4 L125.1 321.0 L124.1 322.3 L123.1 323.4 L122.0 324.3 L121.0 325.0 L119.9 325.6 L118.9 326.1 L117.9 326.5 L116.8 326.8 L115.8 327.0 L114.7 327.2 L113.7 327.4 L112.7 327.5 L111.6 327.6 Z" fill="#f6d6f8" fill-opacity="0.75" stroke="none"/>
<path d="M111.6 327.8 L113.0 323.5 L117.1 324.7 L120.7 319.2 L124.3 319.9 L128.5 312.8 L132.8 304.0 L150.0 234.6 L152.8 205.6 L155.5 234.6 L157.3 265.5 L162.8 276.5 L166.7 290.8 L169.8 302.1 L174.4 309.8 L180.8 312.2 L184.6 322.6 L189.7 322.0 L194.3 325.7 L198.8 326.3 L205.1 327.8" fill="none" stroke="#e264ee" stroke-width="1.15" stroke-linejoin="miter"/>
<path d="M111.6 327.6 L112.7 327.5 L113.7 327.4 L114.7 327.2 L115.8 327.0 L116.8 326.8 L117.9 326.5 L118.9 326.1 L119.9 325.6 L121.0 325.0 L122.0 324.3 L123.1 323.4 L124.1 322.3 L125.1 321.0 L126.2 319.4 L127.2 317.6 L128.3 315.6 L129.3 313.2 L130.3 310.5 L131.4 307.4 L132.4 304.0 L133.4 300.3 L134.5 296.2 L135.5 291.9 L136.6 287.2 L137.6 282.3 L138.6 277.3 L139.7 272.2 L140.7 267.0 L141.8 261.9 L142.8 256.9 L143.8 252.2 L144.9 247.8 L145.9 243.8 L147.0 240.4 L148.0 237.6 L149.0 235.4 L150.1 233.9 L151.1 233.2 L152.2 233.2 L153.2 234.0 L154.2 235.6 L155.3 237.8 L156.3 240.7 L157.3 244.2 L158.4 248.2 L159.4 252.7 L160.5 257.4 L161.5 262.4 L162.5 267.5 L163.6 272.7 L164.6 277.9 L165.7 282.9 L166.7 287.7 L167.7 292.3 L168.8 296.7 L169.8 300.7 L170.9 304.4 L171.9 307.7 L172.9 310.8 L174.0 313.4 L175.0 315.8 L176.1 317.8 L177.1 319.6 L178.1 321.1 L179.2 322.4 L180.2 323.5 L181.2 324.3 L182.3 325.1 L183.3 325.7 L184.4 326.1 L185.4 326.5 L186.4 326.8 L187.5 327.1 L188.5 327.2 L189.6 327.4 L190.6 327.5 L191.6 327.6 L192.7 327.6 L193.7 327.7 L194.8 327.7 L195.8 327.7 L196.8 327.8 L197.9 327.8 L198.9 327.8 L200.0 327.8 L201.0 327.8 L202.0 327.8 L203.1 327.8 L204.1 327.8 L205.1 327.8" fill="none" stroke="#e264ee" stroke-width="1.5" stroke-dasharray="4.8 2.3"/>
<text x="53.5" y="332.4" text-anchor="end">0</text>
<text x="53.5" y="301.5" text-anchor="end">1</text>
<text x="53.5" y="270.6" text-anchor="end">2</text>
<text x="53.5" y="239.7" text-anchor="end">3</text>
<text x="53.5" y="208.8" text-anchor="end">4</text>
<text x="73.2" y="351.2" text-anchor="end">−2.0</text>
<text x="118.7" y="351.2" text-anchor="end">−1.5</text>
<text x="164.1" y="351.2" text-anchor="end">−1.0</text>
<text x="209.6" y="351.2" text-anchor="end">−0.5</text>
<text x="245.8" y="351.2" text-anchor="middle">0</text>
<text x="76.0" y="226.0" fill="#68b834" stroke="#68b834" font-size="12.8"><tspan font-style="italic">r</tspan><tspan font-size="8.5" dy="-4.6">2</tspan><tspan dy="4.6"> = 0.97</tspan></text>
<text x="76.0" y="242.6" fill="#e264ee" stroke="#e264ee" font-size="12.8"><tspan font-style="italic">r</tspan><tspan font-size="8.5" dy="-4.6">2</tspan><tspan dy="4.6"> = 0.92</tspan></text>
</g>
<g>
<path d="M281.80 204.90H288.10V333.30M281.80 235.43H288.10M281.80 265.95H288.10M281.80 296.48H288.10M281.80 327.00H469.30V333.30M333.40 327.00V333.30M378.70 327.00V333.30M424.00 327.00V333.30" fill="none" stroke="#3c3c3c" stroke-width="1.3"/>
<path d="M317.8 324.7 L322.2 323.1 L327.3 326.0 L335.8 320.5 L341.3 316.2 L349.8 304.0 L354.9 293.6 L362.2 279.8 L367.1 274.6 L372.2 278.0 L376.7 284.1 L380.0 287.5 L384.4 285.0 L389.6 299.7 L396.7 303.1 L400.7 302.7 L406.1 307.9 L413.0 304.9 L419.5 310.1 L422.1 308.6 L433.0 317.4 L435.7 316.8 L443.9 324.4 L446.6 323.5 L454.8 326.9 L458.8 324.7 L462.9 327.0 L462.9 327.0 L461.3 327.0 L459.7 327.0 L458.1 327.0 L456.5 327.0 L454.9 327.0 L453.3 327.0 L451.7 327.0 L450.0 327.0 L448.4 327.0 L446.8 327.0 L445.2 327.0 L443.6 326.9 L442.0 326.7 L440.4 326.5 L438.8 326.3 L437.1 326.0 L435.5 325.7 L433.9 325.3 L432.3 324.9 L430.7 324.4 L429.1 323.9 L427.5 323.2 L425.9 322.6 L424.3 321.8 L422.6 321.0 L421.0 320.1 L419.4 319.1 L417.8 318.0 L416.2 316.8 L414.6 315.5 L413.0 314.2 L411.4 312.8 L409.7 311.2 L408.1 309.7 L406.5 308.0 L404.9 306.3 L403.3 304.6 L401.7 302.8 L400.1 301.0 L398.5 299.1 L396.8 297.3 L395.2 295.6 L393.6 293.8 L392.0 292.1 L390.4 290.6 L388.8 289.1 L387.2 287.7 L385.6 286.4 L383.9 285.3 L382.3 284.3 L380.7 283.6 L379.1 283.0 L377.5 282.5 L375.9 282.3 L374.3 282.3 L372.7 282.5 L371.0 282.8 L369.4 283.4 L367.8 284.1 L366.2 285.0 L364.6 286.1 L363.0 287.3 L361.4 288.7 L359.8 290.2 L358.2 291.7 L356.5 293.4 L354.9 295.1 L353.3 296.9 L351.7 298.7 L350.1 300.5 L348.5 302.3 L346.9 304.1 L345.3 305.9 L343.6 307.6 L342.0 309.2 L340.4 310.8 L338.8 312.4 L337.2 313.8 L335.6 315.2 L334.0 316.5 L332.4 317.7 L330.7 318.8 L329.1 319.8 L327.5 320.7 L325.9 321.6 L324.3 322.4 L322.7 323.1 L321.1 323.7 L319.5 324.3 L317.8 324.8 Z" fill="#c9f3bd" fill-opacity="0.75" stroke="none"/>
<path d="M317.8 324.7 L322.2 323.1 L327.3 326.0 L335.8 320.5 L341.3 316.2 L349.8 304.0 L354.9 293.6 L362.2 279.8 L367.1 274.6 L372.2 278.0 L376.7 284.1 L380.0 287.5 L384.4 285.0 L389.6 299.7 L396.7 303.1 L400.7 302.7 L406.1 307.9 L413.0 304.9 L419.5 310.1 L422.1 308.6 L433.0 317.4 L435.7 316.8 L443.9 324.4 L446.6 323.5 L454.8 326.9 L458.8 324.7 L462.9 327.0" fill="none" stroke="#68b834" stroke-width="1.15" stroke-linejoin="miter"/>
<path d="M317.8 324.8 L319.5 324.3 L321.1 323.7 L322.7 323.1 L324.3 322.4 L325.9 321.6 L327.5 320.7 L329.1 319.8 L330.7 318.8 L332.4 317.7 L334.0 316.5 L335.6 315.2 L337.2 313.8 L338.8 312.4 L340.4 310.8 L342.0 309.2 L343.6 307.6 L345.3 305.9 L346.9 304.1 L348.5 302.3 L350.1 300.5 L351.7 298.7 L353.3 296.9 L354.9 295.1 L356.5 293.4 L358.2 291.7 L359.8 290.2 L361.4 288.7 L363.0 287.3 L364.6 286.1 L366.2 285.0 L367.8 284.1 L369.4 283.4 L371.0 282.8 L372.7 282.5 L374.3 282.3 L375.9 282.3 L377.5 282.5 L379.1 283.0 L380.7 283.6 L382.3 284.3 L383.9 285.3 L385.6 286.4 L387.2 287.7 L388.8 289.1 L390.4 290.6 L392.0 292.1 L393.6 293.8 L395.2 295.6 L396.8 297.3 L398.5 299.1 L400.1 301.0 L401.7 302.8 L403.3 304.6 L404.9 306.3 L406.5 308.0 L408.1 309.7 L409.7 311.2 L411.4 312.8 L413.0 314.2 L414.6 315.5 L416.2 316.8 L417.8 318.0 L419.4 319.1 L421.0 320.1 L422.6 321.0 L424.3 321.8 L425.9 322.6 L427.5 323.2 L429.1 323.9 L430.7 324.4 L432.3 324.9 L433.9 325.3 L435.5 325.7 L437.1 326.0 L438.8 326.3 L440.4 326.5 L442.0 326.7 L443.6 326.9 L445.2 327.0 L446.8 327.0 L448.4 327.0 L450.0 327.0 L451.7 327.0 L453.3 327.0 L454.9 327.0 L456.5 327.0 L458.1 327.0 L459.7 327.0 L461.3 327.0 L462.9 327.0" fill="none" stroke="#68b834" stroke-width="1.5" stroke-dasharray="4.8 2.3"/>
<path d="M329.0 327.0 L335.8 319.6 L342.2 314.4 L348.1 317.7 L351.5 300.6 L358.5 281.7 L366.6 264.3 L370.9 283.2 L375.8 253.0 L380.0 286.9 L384.4 280.8 L389.6 297.2 L393.0 295.4 L403.4 309.2 L410.3 315.6 L416.9 317.4 L427.7 324.3 L434.4 318.3 L438.4 327.0 L438.4 327.0 L437.2 327.0 L436.0 327.0 L434.8 327.0 L433.6 327.0 L432.3 327.0 L431.1 327.0 L429.9 327.0 L428.7 327.0 L427.5 326.9 L426.3 326.7 L425.1 326.5 L423.8 326.2 L422.6 325.9 L421.4 325.6 L420.2 325.2 L419.0 324.7 L417.8 324.2 L416.5 323.6 L415.3 322.9 L414.1 322.2 L412.9 321.3 L411.7 320.4 L410.5 319.4 L409.3 318.2 L408.0 317.0 L406.8 315.6 L405.6 314.2 L404.4 312.6 L403.2 310.9 L402.0 309.2 L400.7 307.3 L399.5 305.3 L398.3 303.3 L397.1 301.1 L395.9 298.9 L394.7 296.7 L393.4 294.4 L392.2 292.1 L391.0 289.9 L389.8 287.6 L388.6 285.4 L387.4 283.3 L386.2 281.2 L384.9 279.3 L383.7 277.5 L382.5 275.8 L381.3 274.4 L380.1 273.1 L378.9 272.0 L377.6 271.2 L376.4 270.6 L375.2 270.2 L374.0 270.1 L372.8 270.2 L371.6 270.5 L370.3 271.1 L369.1 272.0 L367.9 273.0 L366.7 274.3 L365.5 275.7 L364.3 277.4 L363.1 279.2 L361.8 281.1 L360.6 283.1 L359.4 285.3 L358.2 287.5 L357.0 289.7 L355.8 292.0 L354.5 294.3 L353.3 296.6 L352.1 298.8 L350.9 301.0 L349.7 303.1 L348.5 305.2 L347.2 307.2 L346.0 309.1 L344.8 310.8 L343.6 312.5 L342.4 314.1 L341.2 315.6 L340.0 316.9 L338.7 318.2 L337.5 319.3 L336.3 320.3 L335.1 321.3 L333.9 322.1 L332.7 322.9 L331.4 323.5 L330.2 324.1 L329.0 324.7 Z" fill="#f6d6f8" fill-opacity="0.75" stroke="none"/>
<path d="M329.0 327.0 L335.8 319.6 L342.2 314.4 L348.1 317.7 L351.5 300.6 L358.5 281.7 L366.6 264.3 L370.9 283.2 L375.8 253.0 L380.0 286.9 L384.4 280.8 L389.6 297.2 L393.0 295.4 L403.4 309.2 L410.3 315.6 L416.9 317.4 L427.7 324.3 L434.4 318.3 L438.4 327.0" fill="none" stroke="#e264ee" stroke-width="1.15" stroke-linejoin="miter"/>
<path d="M329.0 324.7 L330.2 324.1 L331.4 323.5 L332.7 322.9 L333.9 322.1 L335.1 321.3 L336.3 320.3 L337.5 319.3 L338.7 318.2 L340.0 316.9 L341.2 315.6 L342.4 314.1 L343.6 312.5 L344.8 310.8 L346.0 309.1 L347.2 307.2 L348.5 305.2 L349.7 303.1 L350.9 301.0 L352.1 298.8 L353.3 296.6 L354.5 294.3 L355.8 292.0 L357.0 289.7 L358.2 287.5 L359.4 285.3 L360.6 283.1 L361.8 281.1 L363.1 279.2 L364.3 277.4 L365.5 275.7 L366.7 274.3 L367.9 273.0 L369.1 272.0 L370.3 271.1 L371.6 270.5 L372.8 270.2 L374.0 270.1 L375.2 270.2 L376.4 270.6 L377.6 271.2 L378.9 272.0 L380.1 273.1 L381.3 274.4 L382.5 275.8 L383.7 277.5 L384.9 279.3 L386.2 281.2 L387.4 283.3 L388.6 285.4 L389.8 287.6 L391.0 289.9 L392.2 292.1 L393.4 294.4 L394.7 296.7 L395.9 298.9 L397.1 301.1 L398.3 303.3 L399.5 305.3 L400.7 307.3 L402.0 309.2 L403.2 310.9 L404.4 312.6 L405.6 314.2 L406.8 315.6 L408.0 317.0 L409.3 318.2 L410.5 319.4 L411.7 320.4 L412.9 321.3 L414.1 322.2 L415.3 322.9 L416.5 323.6 L417.8 324.2 L419.0 324.7 L420.2 325.2 L421.4 325.6 L422.6 325.9 L423.8 326.2 L425.1 326.5 L426.3 326.7 L427.5 326.9 L428.7 327.0 L429.9 327.0 L431.1 327.0 L432.3 327.0 L433.6 327.0 L434.8 327.0 L436.0 327.0 L437.2 327.0 L438.4 327.0" fill="none" stroke="#e264ee" stroke-width="1.5" stroke-dasharray="4.8 2.3"/>
<text x="277.1" y="333.7" text-anchor="end">0</text>
<text x="277.1" y="302.8" text-anchor="end">1</text>
<text x="277.1" y="271.9" text-anchor="end">2</text>
<text x="277.1" y="241.0" text-anchor="end">3</text>
<text x="277.1" y="210.1" text-anchor="end">4</text>
<text x="297.3" y="352.2" text-anchor="end">−2.0</text>
<text x="342.8" y="352.2" text-anchor="end">−1.5</text>
<text x="388.2" y="352.2" text-anchor="end">−1.0</text>
<text x="433.7" y="352.2" text-anchor="end">−0.5</text>
<text x="469.9" y="352.2" text-anchor="middle">0</text>
<text x="300.0" y="227.3" fill="#68b834" stroke="#68b834" font-size="12.8"><tspan font-style="italic">r</tspan><tspan font-size="8.5" dy="-4.6">2</tspan><tspan dy="4.6"> = 0.86</tspan></text>
<text x="300.0" y="243.9" fill="#e264ee" stroke="#e264ee" font-size="12.8"><tspan font-style="italic">r</tspan><tspan font-size="8.5" dy="-4.6">2</tspan><tspan dy="4.6"> = 0.86</tspan></text>
</g>
<g>
<path d="M508.80 204.90H515.10V333.80M508.80 235.55H515.10M508.80 266.20H515.10M508.80 296.85H515.10M508.80 327.50H697.40V333.80M560.67 327.50V333.80M606.25 327.50V333.80M651.83 327.50V333.80" fill="none" stroke="#3c3c3c" stroke-width="1.3"/>
<path d="M546.9 327.2 L565.7 323.2 L577.2 321.4 L582.4 309.2 L590.2 297.2 L597.1 285.0 L602.2 278.0 L609.3 276.5 L614.4 279.8 L618.7 292.7 L623.9 298.2 L628.4 290.2 L633.7 305.5 L636.3 302.7 L644.1 307.9 L651.4 304.0 L655.3 310.1 L660.5 313.1 L665.1 318.6 L671.6 319.2 L674.2 320.5 L677.5 325.7 L688.7 327.5 L688.7 327.5 L687.1 327.5 L685.5 327.5 L684.0 327.5 L682.4 327.4 L680.8 327.3 L679.2 327.2 L677.7 327.1 L676.1 326.9 L674.5 326.7 L672.9 326.5 L671.4 326.3 L669.8 326.0 L668.2 325.7 L666.6 325.3 L665.1 324.9 L663.5 324.4 L661.9 323.8 L660.3 323.2 L658.8 322.5 L657.2 321.7 L655.6 320.8 L654.0 319.9 L652.5 318.8 L650.9 317.7 L649.3 316.4 L647.7 315.1 L646.2 313.7 L644.6 312.2 L643.0 310.6 L641.4 308.9 L639.9 307.2 L638.3 305.3 L636.7 303.5 L635.1 301.6 L633.6 299.7 L632.0 297.7 L630.4 295.8 L628.8 293.9 L627.3 292.1 L625.7 290.3 L624.1 288.6 L622.5 287.1 L621.0 285.6 L619.4 284.3 L617.8 283.1 L616.2 282.1 L614.7 281.3 L613.1 280.7 L611.5 280.3 L609.9 280.2 L608.4 280.2 L606.8 280.4 L605.2 280.9 L603.6 281.5 L602.1 282.3 L600.5 283.4 L598.9 284.6 L597.3 285.9 L595.8 287.4 L594.2 289.0 L592.6 290.7 L591.0 292.5 L589.5 294.3 L587.9 296.2 L586.3 298.2 L584.7 300.1 L583.2 302.0 L581.6 303.9 L580.0 305.7 L578.4 307.5 L576.9 309.3 L575.3 310.9 L573.7 312.5 L572.1 314.0 L570.6 315.4 L569.0 316.7 L567.4 317.9 L565.8 319.1 L564.3 320.1 L562.7 321.0 L561.1 321.9 L559.5 322.6 L558.0 323.3 L556.4 323.9 L554.8 324.5 L553.2 325.0 L551.7 325.4 L550.1 325.8 L548.5 326.1 L546.9 326.3 Z" fill="#c9f3bd" fill-opacity="0.75" stroke="none"/>
<path d="M546.9 327.2 L565.7 323.2 L577.2 321.4 L582.4 309.2 L590.2 297.2 L597.1 285.0 L602.2 278.0 L609.3 276.5 L614.4 279.8 L618.7 292.7 L623.9 298.2 L628.4 290.2 L633.7 305.5 L636.3 302.7 L644.1 307.9 L651.4 304.0 L655.3 310.1 L660.5 313.1 L665.1 318.6 L671.6 319.2 L674.2 320.5 L677.5 325.7 L688.7 327.5" fill="none" stroke="#68b834" stroke-width="1.15" stroke-linejoin="miter"/>
<path d="M546.9 326.3 L548.5 326.1 L550.1 325.8 L551.7 325.4 L553.2 325.0 L554.8 324.5 L556.4 323.9 L558.0 323.3 L559.5 322.6 L561.1 321.9 L562.7 321.0 L564.3 320.1 L565.8 319.1 L567.4 317.9 L569.0 316.7 L570.6 315.4 L572.1 314.0 L573.7 312.5 L575.3 310.9 L576.9 309.3 L578.4 307.5 L580.0 305.7 L581.6 303.9 L583.2 302.0 L584.7 300.1 L586.3 298.2 L587.9 296.2 L589.5 294.3 L591.0 292.5 L592.6 290.7 L594.2 289.0 L595.8 287.4 L597.3 285.9 L598.9 284.6 L600.5 283.4 L602.1 282.3 L603.6 281.5 L605.2 280.9 L606.8 280.4 L608.4 280.2 L609.9 280.2 L611.5 280.3 L613.1 280.7 L614.7 281.3 L616.2 282.1 L617.8 283.1 L619.4 284.3 L621.0 285.6 L622.5 287.1 L624.1 288.6 L625.7 290.3 L627.3 292.1 L628.8 293.9 L630.4 295.8 L632.0 297.7 L633.6 299.7 L635.1 301.6 L636.7 303.5 L638.3 305.3 L639.9 307.2 L641.4 308.9 L643.0 310.6 L644.6 312.2 L646.2 313.7 L647.7 315.1 L649.3 316.4 L650.9 317.7 L652.5 318.8 L654.0 319.9 L655.6 320.8 L657.2 321.7 L658.8 322.5 L660.3 323.2 L661.9 323.8 L663.5 324.4 L665.1 324.9 L666.6 325.3 L668.2 325.7 L669.8 326.0 L671.4 326.3 L672.9 326.5 L674.5 326.7 L676.1 326.9 L677.7 327.1 L679.2 327.2 L680.8 327.3 L682.4 327.4 L684.0 327.5 L685.5 327.5 L687.1 327.5 L688.7 327.5" fill="none" stroke="#68b834" stroke-width="1.5" stroke-dasharray="4.8 2.3"/>
<path d="M559.0 326.0 L569.4 324.7 L575.5 324.7 L578.9 316.2 L581.5 310.1 L584.1 309.2 L590.2 295.4 L594.0 280.8 L596.2 283.2 L602.6 257.2 L607.5 283.2 L611.8 262.4 L616.1 280.8 L621.9 289.0 L625.8 289.6 L631.0 297.6 L634.9 304.7 L642.9 309.3 L649.4 315.3 L658.5 315.9 L665.1 319.9 L671.6 323.8 L678.2 326.6 L690.1 327.5 L690.1 327.5 L688.7 327.5 L687.2 327.5 L685.8 327.5 L684.3 327.5 L682.9 327.5 L681.4 327.5 L679.9 327.5 L678.5 327.5 L677.0 327.5 L675.6 327.5 L674.1 327.5 L672.7 327.5 L671.2 327.4 L669.7 327.3 L668.3 327.1 L666.8 327.0 L665.4 326.8 L663.9 326.6 L662.5 326.3 L661.0 325.9 L659.5 325.6 L658.1 325.1 L656.6 324.6 L655.2 324.0 L653.7 323.3 L652.3 322.5 L650.8 321.6 L649.3 320.6 L647.9 319.4 L646.4 318.2 L645.0 316.8 L643.5 315.2 L642.1 313.6 L640.6 311.8 L639.1 309.8 L637.7 307.8 L636.2 305.6 L634.8 303.3 L633.3 301.0 L631.9 298.6 L630.4 296.1 L628.9 293.6 L627.5 291.1 L626.0 288.7 L624.6 286.3 L623.1 284.0 L621.7 281.8 L620.2 279.7 L618.8 277.9 L617.3 276.2 L615.8 274.8 L614.4 273.7 L612.9 272.8 L611.5 272.2 L610.0 271.9 L608.6 271.9 L607.1 272.2 L605.6 272.9 L604.2 273.7 L602.7 274.9 L601.3 276.3 L599.8 278.0 L598.4 279.9 L596.9 281.9 L595.4 284.1 L594.0 286.4 L592.5 288.8 L591.1 291.3 L589.6 293.7 L588.2 296.2 L586.7 298.7 L585.2 301.1 L583.8 303.5 L582.3 305.7 L580.9 307.9 L579.4 309.9 L578.0 311.9 L576.5 313.7 L575.0 315.3 L573.6 316.8 L572.1 318.2 L570.7 319.5 L569.2 320.6 L567.8 321.6 L566.3 322.5 L564.8 323.3 L563.4 324.0 L561.9 324.6 L560.5 325.1 L559.0 325.6 Z" fill="#f6d6f8" fill-opacity="0.75" stroke="none"/>
<path d="M559.0 326.0 L569.4 324.7 L575.5 324.7 L578.9 316.2 L581.5 310.1 L584.1 309.2 L590.2 295.4 L594.0 280.8 L596.2 283.2 L602.6 257.2 L607.5 283.2 L611.8 262.4 L616.1 280.8 L621.9 289.0 L625.8 289.6 L631.0 297.6 L634.9 304.7 L642.9 309.3 L649.4 315.3 L658.5 315.9 L665.1 319.9 L671.6 323.8 L678.2 326.6 L690.1 327.5" fill="none" stroke="#e264ee" stroke-width="1.15" stroke-linejoin="miter"/>
<path d="M559.0 325.6 L560.5 325.1 L561.9 324.6 L563.4 324.0 L564.8 323.3 L566.3 322.5 L567.8 321.6 L569.2 320.6 L570.7 319.5 L572.1 318.2 L573.6 316.8 L575.0 315.3 L576.5 313.7 L578.0 311.9 L579.4 309.9 L580.9 307.9 L582.3 305.7 L583.8 303.5 L585.2 301.1 L586.7 298.7 L588.2 296.2 L589.6 293.7 L591.1 291.3 L592.5 288.8 L594.0 286.4 L595.4 284.1 L596.9 281.9 L598.4 279.9 L599.8 278.0 L601.3 276.3 L602.7 274.9 L604.2 273.7 L605.6 272.9 L607.1 272.2 L608.6 271.9 L610.0 271.9 L611.5 272.2 L612.9 272.8 L614.4 273.7 L615.8 274.8 L617.3 276.2 L618.8 277.9 L620.2 279.7 L621.7 281.8 L623.1 284.0 L624.6 286.3 L626.0 288.7 L627.5 291.1 L628.9 293.6 L630.4 296.1 L631.9 298.6 L633.3 301.0 L634.8 303.3 L636.2 305.6 L637.7 307.8 L639.1 309.8 L640.6 311.8 L642.1 313.6 L643.5 315.2 L645.0 316.8 L646.4 318.2 L647.9 319.4 L649.3 320.6 L650.8 321.6 L652.3 322.5 L653.7 323.3 L655.2 324.0 L656.6 324.6 L658.1 325.1 L659.5 325.6 L661.0 325.9 L662.5 326.3 L663.9 326.6 L665.4 326.8 L666.8 327.0 L668.3 327.1 L669.7 327.3 L671.2 327.4 L672.7 327.5 L674.1 327.5 L675.6 327.5 L677.0 327.5 L678.5 327.5 L679.9 327.5 L681.4 327.5 L682.9 327.5 L684.3 327.5 L685.8 327.5 L687.2 327.5 L688.7 327.5 L690.1 327.5" fill="none" stroke="#e264ee" stroke-width="1.5" stroke-dasharray="4.8 2.3"/>
<text x="506.9" y="333.7" text-anchor="end">0</text>
<text x="506.9" y="302.8" text-anchor="end">1</text>
<text x="506.9" y="271.9" text-anchor="end">2</text>
<text x="506.9" y="241.0" text-anchor="end">3</text>
<text x="506.9" y="210.1" text-anchor="end">4</text>
<text x="526.5" y="352.2" text-anchor="end">−2.0</text>
<text x="572.0" y="352.2" text-anchor="end">−1.5</text>
<text x="617.4" y="352.2" text-anchor="end">−1.0</text>
<text x="662.9" y="352.2" text-anchor="end">−0.5</text>
<text x="699.1" y="352.2" text-anchor="middle">0</text>
<text x="528.5" y="227.3" fill="#68b834" stroke="#68b834" font-size="12.8"><tspan font-style="italic">r</tspan><tspan font-size="8.5" dy="-4.6">2</tspan><tspan dy="4.6"> = 0.86</tspan></text>
<text x="528.5" y="243.9" fill="#e264ee" stroke="#e264ee" font-size="12.8"><tspan font-style="italic">r</tspan><tspan font-size="8.5" dy="-4.6">2</tspan><tspan dy="4.6"> = 0.89</tspan></text>
</g>
<g>
<path d="M57.10 374.60H63.40V503.15M57.10 405.16H63.40M57.10 435.73H63.40M57.10 466.29H63.40M57.10 496.85H245.30V503.15M108.88 496.85V503.15M154.35 496.85V503.15M199.83 496.85V503.15" fill="none" stroke="#3c3c3c" stroke-width="1.3"/>
<path d="M94.0 490.0 L98.0 495.7 L104.4 491.4 L108.0 496.3 L114.3 488.7 L120.7 483.8 L127.1 479.8 L133.4 464.5 L139.8 444.0 L145.2 422.4 L148.9 407.1 L153.2 405.2 L156.6 423.6 L159.1 441.6 L164.3 452.9 L169.3 472.2 L177.0 486.2 L184.5 492.6 L192.4 496.9 L192.4 496.2 L191.3 496.0 L190.2 495.8 L189.2 495.5 L188.1 495.1 L187.0 494.7 L185.9 494.2 L184.8 493.5 L183.7 492.7 L182.6 491.8 L181.5 490.8 L180.4 489.5 L179.3 488.0 L178.2 486.4 L177.1 484.5 L176.0 482.4 L174.9 480.0 L173.8 477.4 L172.8 474.5 L171.7 471.3 L170.6 467.9 L169.5 464.3 L168.4 460.5 L167.3 456.5 L166.2 452.4 L165.1 448.2 L164.0 443.9 L162.9 439.7 L161.8 435.6 L160.7 431.6 L159.6 427.8 L158.5 424.3 L157.4 421.1 L156.3 418.3 L155.3 416.0 L154.2 414.2 L153.1 412.9 L152.0 412.1 L150.9 412.0 L149.8 412.4 L148.7 413.4 L147.6 414.9 L146.5 417.0 L145.4 419.5 L144.3 422.5 L143.2 425.8 L142.1 429.4 L141.0 433.3 L139.9 437.4 L138.8 441.6 L137.8 445.8 L136.7 450.1 L135.6 454.2 L134.5 458.3 L133.4 462.2 L132.3 465.9 L131.2 469.5 L130.1 472.7 L129.0 475.8 L127.9 478.6 L126.8 481.1 L125.7 483.3 L124.6 485.4 L123.5 487.2 L122.4 488.7 L121.3 490.1 L120.3 491.3 L119.2 492.3 L118.1 493.1 L117.0 493.8 L115.9 494.4 L114.8 494.9 L113.7 495.3 L112.6 495.7 L111.5 495.9 L110.4 496.1 L109.3 496.3 L108.2 496.4 L107.1 496.6 L106.0 496.6 L104.9 496.7 L103.9 496.8 L102.8 496.8 L101.7 496.8 L100.6 496.8 L99.5 496.9 L98.4 496.9 L97.3 496.9 L96.2 496.9 L95.1 496.9 L94.0 496.9 Z" fill="#c9f3bd" fill-opacity="0.75" stroke="none"/>
<path d="M94.0 490.0 L98.0 495.7 L104.4 491.4 L108.0 496.3 L114.3 488.7 L120.7 483.8 L127.1 479.8 L133.4 464.5 L139.8 444.0 L145.2 422.4 L148.9 407.1 L153.2 405.2 L156.6 423.6 L159.1 441.6 L164.3 452.9 L169.3 472.2 L177.0 486.2 L184.5 492.6 L192.4 496.9" fill="none" stroke="#68b834" stroke-width="1.15" stroke-linejoin="miter"/>
<path d="M94.0 496.9 L95.1 496.9 L96.2 496.9 L97.3 496.9 L98.4 496.9 L99.5 496.9 L100.6 496.8 L101.7 496.8 L102.8 496.8 L103.9 496.8 L104.9 496.7 L106.0 496.6 L107.1 496.6 L108.2 496.4 L109.3 496.3 L110.4 496.1 L111.5 495.9 L112.6 495.7 L113.7 495.3 L114.8 494.9 L115.9 494.4 L117.0 493.8 L118.1 493.1 L119.2 492.3 L120.3 491.3 L121.3 490.1 L122.4 488.7 L123.5 487.2 L124.6 485.4 L125.7 483.3 L126.8 481.1 L127.9 478.6 L129.0 475.8 L130.1 472.7 L131.2 469.5 L132.3 465.9 L133.4 462.2 L134.5 458.3 L135.6 454.2 L136.7 450.1 L137.8 445.8 L138.8 441.6 L139.9 437.4 L141.0 433.3 L142.1 429.4 L143.2 425.8 L144.3 422.5 L145.4 419.5 L146.5 417.0 L147.6 414.9 L148.7 413.4 L149.8 412.4 L150.9 412.0 L152.0 412.1 L153.1 412.9 L154.2 414.2 L155.3 416.0 L156.3 418.3 L157.4 421.1 L158.5 424.3 L159.6 427.8 L160.7 431.6 L161.8 435.6 L162.9 439.7 L164.0 443.9 L165.1 448.2 L166.2 452.4 L167.3 456.5 L168.4 460.5 L169.5 464.3 L170.6 467.9 L171.7 471.3 L172.8 474.5 L173.8 477.4 L174.9 480.0 L176.0 482.4 L177.1 484.5 L178.2 486.4 L179.3 488.0 L180.4 489.5 L181.5 490.8 L182.6 491.8 L183.7 492.7 L184.8 493.5 L185.9 494.2 L187.0 494.7 L188.1 495.1 L189.2 495.5 L190.2 495.8 L191.3 496.0 L192.4 496.2" fill="none" stroke="#68b834" stroke-width="1.5" stroke-dasharray="4.8 2.3"/>
<path d="M108.6 496.3 L116.4 495.7 L120.0 491.4 L122.8 488.0 L125.7 487.7 L130.0 481.3 L132.8 468.5 L135.6 453.5 L138.5 459.3 L141.0 445.6 L147.6 415.9 L151.4 398.2 L153.9 384.8 L155.8 400.7 L158.3 409.5 L159.0 420.5 L162.0 419.3 L163.7 434.0 L166.9 468.5 L169.4 469.7 L171.4 478.3 L175.5 488.2 L181.7 494.3 L189.1 496.9 L189.1 496.2 L188.2 496.0 L187.3 495.8 L186.4 495.5 L185.5 495.2 L184.6 494.8 L183.7 494.2 L182.8 493.6 L181.9 492.9 L181.0 492.0 L180.1 491.0 L179.2 489.8 L178.3 488.5 L177.5 486.9 L176.6 485.1 L175.7 483.1 L174.8 480.8 L173.9 478.3 L173.0 475.5 L172.1 472.5 L171.2 469.1 L170.3 465.6 L169.4 461.8 L168.5 457.7 L167.6 453.5 L166.7 449.1 L165.8 444.6 L164.9 440.0 L164.0 435.4 L163.2 430.9 L162.3 426.4 L161.4 422.1 L160.5 418.1 L159.6 414.3 L158.7 410.9 L157.8 407.9 L156.9 405.4 L156.0 403.4 L155.1 401.9 L154.2 401.0 L153.3 400.7 L152.4 401.0 L151.5 401.8 L150.6 403.3 L149.7 405.3 L148.9 407.8 L148.0 410.8 L147.1 414.2 L146.2 417.9 L145.3 421.9 L144.4 426.2 L143.5 430.7 L142.6 435.2 L141.7 439.8 L140.8 444.4 L139.9 448.9 L139.0 453.3 L138.1 457.5 L137.2 461.6 L136.3 465.4 L135.4 469.0 L134.5 472.3 L133.7 475.4 L132.8 478.2 L131.9 480.7 L131.0 483.0 L130.1 485.0 L129.2 486.8 L128.3 488.4 L127.4 489.8 L126.5 491.0 L125.6 492.0 L124.7 492.9 L123.8 493.6 L122.9 494.2 L122.0 494.7 L121.1 495.2 L120.2 495.5 L119.4 495.8 L118.5 496.0 L117.6 496.2 L116.7 496.4 L115.8 496.5 L114.9 496.6 L114.0 496.7 L113.1 496.7 L112.2 496.8 L111.3 496.8 L110.4 496.8 L109.5 496.8 L108.6 496.9 Z" fill="#f6d6f8" fill-opacity="0.75" stroke="none"/>
<path d="M108.6 496.3 L116.4 495.7 L120.0 491.4 L122.8 488.0 L125.7 487.7 L130.0 481.3 L132.8 468.5 L135.6 453.5 L138.5 459.3 L141.0 445.6 L147.6 415.9 L151.4 398.2 L153.9 384.8 L155.8 400.7 L158.3 409.5 L159.0 420.5 L162.0 419.3 L163.7 434.0 L166.9 468.5 L169.4 469.7 L171.4 478.3 L175.5 488.2 L181.7 494.3 L189.1 496.9" fill="none" stroke="#e264ee" stroke-width="1.15" stroke-linejoin="miter"/>
<path d="M108.6 496.9 L109.5 496.8 L110.4 496.8 L111.3 496.8 L112.2 496.8 L113.1 496.7 L114.0 496.7 L114.9 496.6 L115.8 496.5 L116.7 496.4 L117.6 496.2 L118.5 496.0 L119.4 495.8 L120.2 495.5 L121.1 495.2 L122.0 494.7 L122.9 494.2 L123.8 493.6 L124.7 492.9 L125.6 492.0 L126.5 491.0 L127.4 489.8 L128.3 488.4 L129.2 486.8 L130.1 485.0 L131.0 483.0 L131.9 480.7 L132.8 478.2 L133.7 475.4 L134.5 472.3 L135.4 469.0 L136.3 465.4 L137.2 461.6 L138.1 457.5 L139.0 453.3 L139.9 448.9 L140.8 444.4 L141.7 439.8 L142.6 435.2 L143.5 430.7 L144.4 426.2 L145.3 421.9 L146.2 417.9 L147.1 414.2 L148.0 410.8 L148.9 407.8 L149.7 405.3 L150.6 403.3 L151.5 401.8 L152.4 401.0 L153.3 400.7 L154.2 401.0 L155.1 401.9 L156.0 403.4 L156.9 405.4 L157.8 407.9 L158.7 410.9 L159.6 414.3 L160.5 418.1 L161.4 422.1 L162.3 426.4 L163.2 430.9 L164.0 435.4 L164.9 440.0 L165.8 444.6 L166.7 449.1 L167.6 453.5 L168.5 457.7 L169.4 461.8 L170.3 465.6 L171.2 469.1 L172.1 472.5 L173.0 475.5 L173.9 478.3 L174.8 480.8 L175.7 483.1 L176.6 485.1 L177.5 486.9 L178.3 488.5 L179.2 489.8 L180.1 491.0 L181.0 492.0 L181.9 492.9 L182.8 493.6 L183.7 494.2 L184.6 494.8 L185.5 495.2 L186.4 495.5 L187.3 495.8 L188.2 496.0 L189.1 496.2" fill="none" stroke="#e264ee" stroke-width="1.5" stroke-dasharray="4.8 2.3"/>
<text x="53.5" y="497.4" text-anchor="end">0</text>
<text x="53.5" y="466.5" text-anchor="end">1</text>
<text x="53.5" y="435.6" text-anchor="end">2</text>
<text x="53.5" y="404.7" text-anchor="end">3</text>
<text x="53.5" y="373.8" text-anchor="end">4</text>
<text x="73.2" y="517.9" text-anchor="end">−2.0</text>
<text x="118.7" y="517.9" text-anchor="end">−1.5</text>
<text x="164.1" y="517.9" text-anchor="end">−1.0</text>
<text x="209.6" y="517.9" text-anchor="end">−0.5</text>
<text x="245.8" y="517.9" text-anchor="middle">0</text>
<text x="76.0" y="391.0" fill="#68b834" stroke="#68b834" font-size="12.8"><tspan font-style="italic">r</tspan><tspan font-size="8.5" dy="-4.6">2</tspan><tspan dy="4.6"> = 0.96</tspan></text>
<text x="76.0" y="407.6" fill="#e264ee" stroke="#e264ee" font-size="12.8"><tspan font-style="italic">r</tspan><tspan font-size="8.5" dy="-4.6">2</tspan><tspan dy="4.6"> = 0.93</tspan></text>
</g>
<g>
<path d="M281.80 373.85H288.10V502.80M281.80 404.51H288.10M281.80 435.18H288.10M281.80 465.84H288.10M281.80 496.50H471.20V502.80M333.88 496.50V502.80M379.65 496.50V502.80M425.43 496.50V502.80" fill="none" stroke="#3c3c3c" stroke-width="1.3"/>
<path d="M301.3 496.5 L324.0 496.0 L335.8 490.8 L343.1 482.8 L349.9 467.9 L355.8 453.8 L361.2 430.0 L363.4 441.9 L365.8 435.8 L370.2 422.1 L372.8 431.8 L376.7 437.0 L381.8 452.0 L387.8 463.9 L393.8 473.8 L397.1 479.2 L402.8 479.9 L406.4 482.8 L410.6 492.7 L414.2 490.8 L417.5 494.5 L423.9 496.0 L431.2 496.0 L437.0 493.5 L443.0 496.3 L448.4 494.2 L456.6 496.3 L464.8 496.3 L469.3 495.7 L469.3 496.5 L467.4 496.5 L465.6 496.5 L463.7 496.5 L461.8 496.5 L460.0 496.5 L458.1 496.5 L456.2 496.5 L454.4 496.5 L452.5 496.5 L450.6 496.5 L448.8 496.5 L446.9 496.5 L445.0 496.5 L443.2 496.5 L441.3 496.5 L439.4 496.5 L437.6 496.5 L435.7 496.5 L433.8 496.5 L432.0 496.5 L430.1 496.5 L428.2 496.5 L426.4 496.5 L424.5 496.5 L422.6 496.5 L420.8 496.5 L418.9 496.4 L417.0 496.2 L415.2 495.9 L413.3 495.5 L411.4 495.0 L409.6 494.3 L407.7 493.4 L405.8 492.3 L404.0 490.9 L402.1 489.2 L400.2 487.2 L398.4 484.8 L396.5 482.0 L394.6 478.8 L392.8 475.2 L390.9 471.3 L389.0 467.1 L387.2 462.7 L385.3 458.2 L383.4 453.6 L381.6 449.3 L379.7 445.1 L377.8 441.4 L376.0 438.3 L374.1 435.8 L372.2 434.1 L370.4 433.2 L368.5 433.2 L366.6 434.0 L364.8 435.7 L362.9 438.2 L361.0 441.3 L359.2 445.0 L357.3 449.1 L355.4 453.5 L353.6 458.1 L351.7 462.6 L349.8 467.0 L348.0 471.2 L346.1 475.1 L344.2 478.7 L342.4 481.9 L340.5 484.7 L338.6 487.1 L336.8 489.2 L334.9 490.9 L333.0 492.2 L331.2 493.4 L329.3 494.3 L327.5 494.9 L325.6 495.5 L323.7 495.9 L321.9 496.2 L320.0 496.4 L318.1 496.5 L316.3 496.5 L314.4 496.5 L312.5 496.5 L310.7 496.5 L308.8 496.5 L306.9 496.5 L305.1 496.5 L303.2 496.5 L301.3 496.5 Z" fill="#c9f3bd" fill-opacity="0.75" stroke="none"/>
<path d="M301.3 496.5 L324.0 496.0 L335.8 490.8 L343.1 482.8 L349.9 467.9 L355.8 453.8 L361.2 430.0 L363.4 441.9 L365.8 435.8 L370.2 422.1 L372.8 431.8 L376.7 437.0 L381.8 452.0 L387.8 463.9 L393.8 473.8 L397.1 479.2 L402.8 479.9 L406.4 482.8 L410.6 492.7 L414.2 490.8 L417.5 494.5 L423.9 496.0 L431.2 496.0 L437.0 493.5 L443.0 496.3 L448.4 494.2 L456.6 496.3 L464.8 496.3 L469.3 495.7" fill="none" stroke="#68b834" stroke-width="1.15" stroke-linejoin="miter"/>
<path d="M301.3 496.5 L303.2 496.5 L305.1 496.5 L306.9 496.5 L308.8 496.5 L310.7 496.5 L312.5 496.5 L314.4 496.5 L316.3 496.5 L318.1 496.5 L320.0 496.4 L321.9 496.2 L323.7 495.9 L325.6 495.5 L327.5 494.9 L329.3 494.3 L331.2 493.4 L333.0 492.2 L334.9 490.9 L336.8 489.2 L338.6 487.1 L340.5 484.7 L342.4 481.9 L344.2 478.7 L346.1 475.1 L348.0 471.2 L349.8 467.0 L351.7 462.6 L353.6 458.1 L355.4 453.5 L357.3 449.1 L359.2 445.0 L361.0 441.3 L362.9 438.2 L364.8 435.7 L366.6 434.0 L368.5 433.2 L370.4 433.2 L372.2 434.1 L374.1 435.8 L376.0 438.3 L377.8 441.4 L379.7 445.1 L381.6 449.3 L383.4 453.6 L385.3 458.2 L387.2 462.7 L389.0 467.1 L390.9 471.3 L392.8 475.2 L394.6 478.8 L396.5 482.0 L398.4 484.8 L400.2 487.2 L402.1 489.2 L404.0 490.9 L405.8 492.3 L407.7 493.4 L409.6 494.3 L411.4 495.0 L413.3 495.5 L415.2 495.9 L417.0 496.2 L418.9 496.4 L420.8 496.5 L422.6 496.5 L424.5 496.5 L426.4 496.5 L428.2 496.5 L430.1 496.5 L432.0 496.5 L433.8 496.5 L435.7 496.5 L437.6 496.5 L439.4 496.5 L441.3 496.5 L443.2 496.5 L445.0 496.5 L446.9 496.5 L448.8 496.5 L450.6 496.5 L452.5 496.5 L454.4 496.5 L456.2 496.5 L458.1 496.5 L460.0 496.5 L461.8 496.5 L463.7 496.5 L465.6 496.5 L467.4 496.5 L469.3 496.5" fill="none" stroke="#68b834" stroke-width="1.5" stroke-dasharray="4.8 2.3"/>
<path d="M329.9 496.3 L334.9 492.7 L340.9 493.8 L346.9 477.8 L349.9 482.8 L354.0 471.8 L358.8 462.8 L364.9 437.9 L367.8 441.9 L373.8 430.0 L377.8 430.9 L379.8 437.9 L385.8 449.9 L390.0 455.7 L394.3 464.2 L402.8 474.3 L408.5 478.6 L414.2 484.1 L422.7 489.3 L428.4 486.2 L437.0 496.5 L437.0 496.5 L435.8 496.5 L434.6 496.4 L433.4 496.3 L432.2 496.1 L431.0 496.0 L429.8 495.8 L428.6 495.5 L427.5 495.3 L426.3 495.0 L425.1 494.6 L423.9 494.2 L422.7 493.7 L421.5 493.1 L420.3 492.5 L419.1 491.8 L417.9 491.0 L416.8 490.2 L415.6 489.2 L414.4 488.1 L413.2 486.9 L412.0 485.6 L410.8 484.2 L409.6 482.6 L408.4 481.0 L407.2 479.2 L406.0 477.3 L404.9 475.3 L403.7 473.2 L402.5 471.0 L401.3 468.7 L400.1 466.3 L398.9 463.9 L397.7 461.5 L396.5 459.0 L395.3 456.6 L394.2 454.1 L393.0 451.7 L391.8 449.4 L390.6 447.2 L389.4 445.1 L388.2 443.1 L387.0 441.3 L385.8 439.7 L384.6 438.3 L383.4 437.1 L382.3 436.2 L381.1 435.5 L379.9 435.1 L378.7 434.9 L377.5 435.0 L376.3 435.3 L375.1 435.9 L373.9 436.8 L372.7 437.9 L371.6 439.3 L370.4 440.8 L369.2 442.5 L368.0 444.5 L366.8 446.5 L365.6 448.7 L364.4 451.0 L363.2 453.4 L362.0 455.8 L360.8 458.2 L359.7 460.7 L358.5 463.1 L357.3 465.6 L356.1 467.9 L354.9 470.2 L353.7 472.5 L352.5 474.6 L351.3 476.6 L350.1 478.6 L349.0 480.4 L347.8 482.1 L346.6 483.7 L345.4 485.1 L344.2 486.5 L343.0 487.7 L341.8 488.8 L340.6 489.9 L339.4 490.8 L338.2 491.6 L337.1 492.3 L335.9 493.0 L334.7 493.5 L333.5 494.0 L332.3 494.5 L331.1 494.8 L329.9 495.2 Z" fill="#f6d6f8" fill-opacity="0.75" stroke="none"/>
<path d="M329.9 496.3 L334.9 492.7 L340.9 493.8 L346.9 477.8 L349.9 482.8 L354.0 471.8 L358.8 462.8 L364.9 437.9 L367.8 441.9 L373.8 430.0 L377.8 430.9 L379.8 437.9 L385.8 449.9 L390.0 455.7 L394.3 464.2 L402.8 474.3 L408.5 478.6 L414.2 484.1 L422.7 489.3 L428.4 486.2 L437.0 496.5" fill="none" stroke="#e264ee" stroke-width="1.15" stroke-linejoin="miter"/>
<path d="M329.9 495.2 L331.1 494.8 L332.3 494.5 L333.5 494.0 L334.7 493.5 L335.9 493.0 L337.1 492.3 L338.2 491.6 L339.4 490.8 L340.6 489.9 L341.8 488.8 L343.0 487.7 L344.2 486.5 L345.4 485.1 L346.6 483.7 L347.8 482.1 L349.0 480.4 L350.1 478.6 L351.3 476.6 L352.5 474.6 L353.7 472.5 L354.9 470.2 L356.1 467.9 L357.3 465.6 L358.5 463.1 L359.7 460.7 L360.8 458.2 L362.0 455.8 L363.2 453.4 L364.4 451.0 L365.6 448.7 L366.8 446.5 L368.0 444.5 L369.2 442.5 L370.4 440.8 L371.6 439.3 L372.7 437.9 L373.9 436.8 L375.1 435.9 L376.3 435.3 L377.5 435.0 L378.7 434.9 L379.9 435.1 L381.1 435.5 L382.3 436.2 L383.4 437.1 L384.6 438.3 L385.8 439.7 L387.0 441.3 L388.2 443.1 L389.4 445.1 L390.6 447.2 L391.8 449.4 L393.0 451.7 L394.2 454.1 L395.3 456.6 L396.5 459.0 L397.7 461.5 L398.9 463.9 L400.1 466.3 L401.3 468.7 L402.5 471.0 L403.7 473.2 L404.9 475.3 L406.0 477.3 L407.2 479.2 L408.4 481.0 L409.6 482.6 L410.8 484.2 L412.0 485.6 L413.2 486.9 L414.4 488.1 L415.6 489.2 L416.8 490.2 L417.9 491.0 L419.1 491.8 L420.3 492.5 L421.5 493.1 L422.7 493.7 L423.9 494.2 L425.1 494.6 L426.3 495.0 L427.5 495.3 L428.6 495.5 L429.8 495.8 L431.0 496.0 L432.2 496.1 L433.4 496.3 L434.6 496.4 L435.8 496.5 L437.0 496.5" fill="none" stroke="#e264ee" stroke-width="1.5" stroke-dasharray="4.8 2.3"/>
<text x="277.3" y="502.4" text-anchor="end">0</text>
<text x="277.3" y="471.5" text-anchor="end">1</text>
<text x="277.3" y="440.6" text-anchor="end">2</text>
<text x="277.3" y="409.7" text-anchor="end">3</text>
<text x="277.3" y="378.8" text-anchor="end">4</text>
<text x="297.3" y="522.3" text-anchor="end">−2.0</text>
<text x="342.8" y="522.3" text-anchor="end">−1.5</text>
<text x="388.2" y="522.3" text-anchor="end">−1.0</text>
<text x="433.7" y="522.3" text-anchor="end">−0.5</text>
<text x="469.9" y="522.3" text-anchor="middle">0</text>
<text x="300.0" y="396.0" fill="#68b834" stroke="#68b834" font-size="12.8"><tspan font-style="italic">r</tspan><tspan font-size="8.5" dy="-4.6">2</tspan><tspan dy="4.6"> = 0.93</tspan></text>
<text x="300.0" y="412.6" fill="#e264ee" stroke="#e264ee" font-size="12.8"><tspan font-style="italic">r</tspan><tspan font-size="8.5" dy="-4.6">2</tspan><tspan dy="4.6"> = 0.92</tspan></text>
</g>
<g>
<path d="M509.20 375.00H515.50V503.40M509.20 405.52H515.50M509.20 436.05H515.50M509.20 466.58H515.50M509.20 497.10H697.10V503.40M560.90 497.10V503.40M606.30 497.10V503.40M651.70 497.10V503.40" fill="none" stroke="#3c3c3c" stroke-width="1.3"/>
<path d="M557.9 496.9 L563.9 493.4 L567.6 494.5 L573.9 487.7 L581.9 477.8 L589.9 457.8 L597.8 437.9 L604.8 423.0 L609.8 427.9 L614.8 437.9 L617.8 449.9 L623.8 463.9 L629.8 475.8 L633.7 481.8 L638.7 483.8 L643.6 487.7 L649.6 490.8 L657.6 493.8 L670.2 496.6 L670.2 496.9 L668.9 496.9 L667.7 496.9 L666.4 496.9 L665.2 496.9 L663.9 496.9 L662.7 496.9 L661.4 496.9 L660.2 496.8 L658.9 496.8 L657.7 496.8 L656.4 496.8 L655.2 496.7 L653.9 496.6 L652.7 496.6 L651.5 496.5 L650.2 496.3 L649.0 496.1 L647.7 495.9 L646.5 495.6 L645.2 495.3 L644.0 494.8 L642.7 494.3 L641.5 493.7 L640.2 492.9 L639.0 492.0 L637.7 491.0 L636.5 489.7 L635.2 488.3 L634.0 486.6 L632.8 484.7 L631.5 482.6 L630.3 480.3 L629.0 477.7 L627.8 474.8 L626.5 471.8 L625.3 468.5 L624.0 465.0 L622.8 461.4 L621.5 457.7 L620.3 453.9 L619.0 450.1 L617.8 446.4 L616.5 442.7 L615.3 439.3 L614.0 436.0 L612.8 433.1 L611.6 430.6 L610.3 428.4 L609.1 426.8 L607.8 425.6 L606.6 424.9 L605.3 424.8 L604.1 425.3 L602.8 426.2 L601.6 427.7 L600.3 429.7 L599.1 432.1 L597.8 434.8 L596.6 438.0 L595.3 441.3 L594.1 444.9 L592.8 448.6 L591.6 452.4 L590.4 456.2 L589.1 459.9 L587.9 463.6 L586.6 467.1 L585.4 470.5 L584.1 473.6 L582.9 476.6 L581.6 479.2 L580.4 481.7 L579.1 483.9 L577.9 485.9 L576.6 487.6 L575.4 489.2 L574.1 490.5 L572.9 491.6 L571.6 492.6 L570.4 493.4 L569.2 494.1 L567.9 494.7 L566.7 495.1 L565.4 495.5 L564.2 495.8 L562.9 496.1 L561.7 496.2 L560.4 496.4 L559.2 496.5 L557.9 496.6 Z" fill="#c9f3bd" fill-opacity="0.75" stroke="none"/>
<path d="M557.9 496.9 L563.9 493.4 L567.6 494.5 L573.9 487.7 L581.9 477.8 L589.9 457.8 L597.8 437.9 L604.8 423.0 L609.8 427.9 L614.8 437.9 L617.8 449.9 L623.8 463.9 L629.8 475.8 L633.7 481.8 L638.7 483.8 L643.6 487.7 L649.6 490.8 L657.6 493.8 L670.2 496.6" fill="none" stroke="#68b834" stroke-width="1.15" stroke-linejoin="miter"/>
<path d="M557.9 496.6 L559.2 496.5 L560.4 496.4 L561.7 496.2 L562.9 496.1 L564.2 495.8 L565.4 495.5 L566.7 495.1 L567.9 494.7 L569.2 494.1 L570.4 493.4 L571.6 492.6 L572.9 491.6 L574.1 490.5 L575.4 489.2 L576.6 487.6 L577.9 485.9 L579.1 483.9 L580.4 481.7 L581.6 479.2 L582.9 476.6 L584.1 473.6 L585.4 470.5 L586.6 467.1 L587.9 463.6 L589.1 459.9 L590.4 456.2 L591.6 452.4 L592.8 448.6 L594.1 444.9 L595.3 441.3 L596.6 438.0 L597.8 434.8 L599.1 432.1 L600.3 429.7 L601.6 427.7 L602.8 426.2 L604.1 425.3 L605.3 424.8 L606.6 424.9 L607.8 425.6 L609.1 426.8 L610.3 428.4 L611.6 430.6 L612.8 433.1 L614.0 436.0 L615.3 439.3 L616.5 442.7 L617.8 446.4 L619.0 450.1 L620.3 453.9 L621.5 457.7 L622.8 461.4 L624.0 465.0 L625.3 468.5 L626.5 471.8 L627.8 474.8 L629.0 477.7 L630.3 480.3 L631.5 482.6 L632.8 484.7 L634.0 486.6 L635.2 488.3 L636.5 489.7 L637.7 491.0 L639.0 492.0 L640.2 492.9 L641.5 493.7 L642.7 494.3 L644.0 494.8 L645.2 495.3 L646.5 495.6 L647.7 495.9 L649.0 496.1 L650.2 496.3 L651.5 496.5 L652.7 496.6 L653.9 496.6 L655.2 496.7 L656.4 496.8 L657.7 496.8 L658.9 496.8 L660.2 496.8 L661.4 496.9 L662.7 496.9 L663.9 496.9 L665.2 496.9 L666.4 496.9 L667.7 496.9 L668.9 496.9 L670.2 496.9" fill="none" stroke="#68b834" stroke-width="1.5" stroke-dasharray="4.8 2.3"/>
<path d="M544.9 496.9 L559.4 496.0 L567.9 493.8 L575.9 487.7 L583.9 479.8 L589.9 471.8 L595.8 458.9 L597.8 461.8 L600.8 453.8 L604.8 437.9 L609.8 438.9 L615.7 441.0 L620.8 445.0 L625.7 452.0 L627.8 458.9 L629.8 456.0 L635.7 467.9 L638.7 472.8 L639.7 470.9 L645.6 483.8 L649.6 479.8 L651.6 487.7 L657.6 490.8 L665.6 494.8 L672.0 496.9 L672.0 496.5 L670.6 496.4 L669.2 496.3 L667.7 496.2 L666.3 496.0 L664.9 495.8 L663.5 495.5 L662.1 495.2 L660.7 494.8 L659.3 494.3 L657.9 493.8 L656.4 493.2 L655.0 492.5 L653.6 491.7 L652.2 490.8 L650.8 489.7 L649.4 488.6 L648.0 487.3 L646.6 485.8 L645.1 484.2 L643.7 482.5 L642.3 480.6 L640.9 478.6 L639.5 476.4 L638.1 474.2 L636.7 471.8 L635.3 469.3 L633.8 466.8 L632.4 464.2 L631.0 461.6 L629.6 459.0 L628.2 456.5 L626.8 454.0 L625.4 451.6 L624.0 449.4 L622.5 447.4 L621.1 445.6 L619.7 444.0 L618.3 442.7 L616.9 441.6 L615.5 440.9 L614.1 440.5 L612.7 440.4 L611.2 440.6 L609.8 441.2 L608.4 442.0 L607.0 443.2 L605.6 444.6 L604.2 446.3 L602.8 448.2 L601.4 450.4 L599.9 452.6 L598.5 455.0 L597.1 457.6 L595.7 460.1 L594.3 462.7 L592.9 465.3 L591.5 467.9 L590.1 470.4 L588.6 472.8 L587.2 475.2 L585.8 477.4 L584.4 479.5 L583.0 481.4 L581.6 483.2 L580.2 484.9 L578.8 486.5 L577.3 487.8 L575.9 489.1 L574.5 490.2 L573.1 491.2 L571.7 492.1 L570.3 492.8 L568.9 493.5 L567.5 494.1 L566.0 494.5 L564.6 495.0 L563.2 495.3 L561.8 495.6 L560.4 495.9 L559.0 496.1 L557.6 496.2 L556.2 496.4 L554.7 496.5 L553.3 496.6 L551.9 496.6 L550.5 496.7 L549.1 496.7 L547.7 496.8 L546.3 496.8 L544.9 496.8 Z" fill="#f6d6f8" fill-opacity="0.75" stroke="none"/>
<path d="M544.9 496.9 L559.4 496.0 L567.9 493.8 L575.9 487.7 L583.9 479.8 L589.9 471.8 L595.8 458.9 L597.8 461.8 L600.8 453.8 L604.8 437.9 L609.8 438.9 L615.7 441.0 L620.8 445.0 L625.7 452.0 L627.8 458.9 L629.8 456.0 L635.7 467.9 L638.7 472.8 L639.7 470.9 L645.6 483.8 L649.6 479.8 L651.6 487.7 L657.6 490.8 L665.6 494.8 L672.0 496.9" fill="none" stroke="#e264ee" stroke-width="1.15" stroke-linejoin="miter"/>
<path d="M544.9 496.8 L546.3 496.8 L547.7 496.8 L549.1 496.7 L550.5 496.7 L551.9 496.6 L553.3 496.6 L554.7 496.5 L556.2 496.4 L557.6 496.2 L559.0 496.1 L560.4 495.9 L561.8 495.6 L563.2 495.3 L564.6 495.0 L566.0 494.5 L567.5 494.1 L568.9 493.5 L570.3 492.8 L571.7 492.1 L573.1 491.2 L574.5 490.2 L575.9 489.1 L577.3 487.8 L578.8 486.5 L580.2 484.9 L581.6 483.2 L583.0 481.4 L584.4 479.5 L585.8 477.4 L587.2 475.2 L588.6 472.8 L590.1 470.4 L591.5 467.9 L592.9 465.3 L594.3 462.7 L595.7 460.1 L597.1 457.6 L598.5 455.0 L599.9 452.6 L601.4 450.4 L602.8 448.2 L604.2 446.3 L605.6 444.6 L607.0 443.2 L608.4 442.0 L609.8 441.2 L611.2 440.6 L612.7 440.4 L614.1 440.5 L615.5 440.9 L616.9 441.6 L618.3 442.7 L619.7 444.0 L621.1 445.6 L622.5 447.4 L624.0 449.4 L625.4 451.6 L626.8 454.0 L628.2 456.5 L629.6 459.0 L631.0 461.6 L632.4 464.2 L633.8 466.8 L635.3 469.3 L636.7 471.8 L638.1 474.2 L639.5 476.4 L640.9 478.6 L642.3 480.6 L643.7 482.5 L645.1 484.2 L646.6 485.8 L648.0 487.3 L649.4 488.6 L650.8 489.7 L652.2 490.8 L653.6 491.7 L655.0 492.5 L656.4 493.2 L657.9 493.8 L659.3 494.3 L660.7 494.8 L662.1 495.2 L663.5 495.5 L664.9 495.8 L666.3 496.0 L667.7 496.2 L669.2 496.3 L670.6 496.4 L672.0 496.5" fill="none" stroke="#e264ee" stroke-width="1.5" stroke-dasharray="4.8 2.3"/>
<text x="506.1" y="502.5" text-anchor="end">0</text>
<text x="506.1" y="471.6" text-anchor="end">1</text>
<text x="506.1" y="440.7" text-anchor="end">2</text>
<text x="506.1" y="409.8" text-anchor="end">3</text>
<text x="506.1" y="378.9" text-anchor="end">4</text>
<text x="525.1" y="522.5" text-anchor="end">−2.0</text>
<text x="570.5" y="522.5" text-anchor="end">−1.5</text>
<text x="616.0" y="522.5" text-anchor="end">−1.0</text>
<text x="661.4" y="522.5" text-anchor="end">−0.5</text>
<text x="697.7" y="522.5" text-anchor="middle">0</text>
<text x="527.9" y="396.1" fill="#68b834" stroke="#68b834" font-size="12.8"><tspan font-style="italic">r</tspan><tspan font-size="8.5" dy="-4.6">2</tspan><tspan dy="4.6"> = 0.98</tspan></text>
<text x="527.9" y="412.7" fill="#e264ee" stroke="#e264ee" font-size="12.8"><tspan font-style="italic">r</tspan><tspan font-size="8.5" dy="-4.6">2</tspan><tspan dy="4.6"> = 0.97</tspan></text>
</g>
<text x="170.3" y="64.0" fill="#68b834" stroke="#68b834" font-size="12.8">ipsilateral</text>
<text x="170.1" y="80.8" fill="#e264ee" stroke="#e264ee" font-size="12.8">contralateral</text>
<text transform="translate(13.1,103.0) rotate(-90)" text-anchor="middle">IML</text>
<text transform="translate(34.2,102.8) rotate(-90)" text-anchor="middle">normalized count</text>
<text transform="translate(13.1,266.3) rotate(-90)" text-anchor="middle">MML</text>
<text transform="translate(34.2,264.4) rotate(-90)" text-anchor="middle">normalized count</text>
<text transform="translate(13.1,430.7) rotate(-90)" text-anchor="middle">OML</text>
<text transform="translate(34.2,429.4) rotate(-90)" text-anchor="middle">normalized count</text>
<text x="154.9" y="535.9" text-anchor="middle" font-size="14.4">log<tspan font-size="10" dy="4">10</tspan><tspan dy="-4"> spine size</tspan></text>
<text x="378.8" y="540.5" text-anchor="middle" font-size="14.4">log<tspan font-size="10" dy="4">10</tspan><tspan dy="-4"> spine size</tspan></text>
<text x="603.7" y="540.5" text-anchor="middle" font-size="14.4">log<tspan font-size="10" dy="4">10</tspan><tspan dy="-4"> spine size</tspan></text>
</g>
</svg>
</body>
</html>
